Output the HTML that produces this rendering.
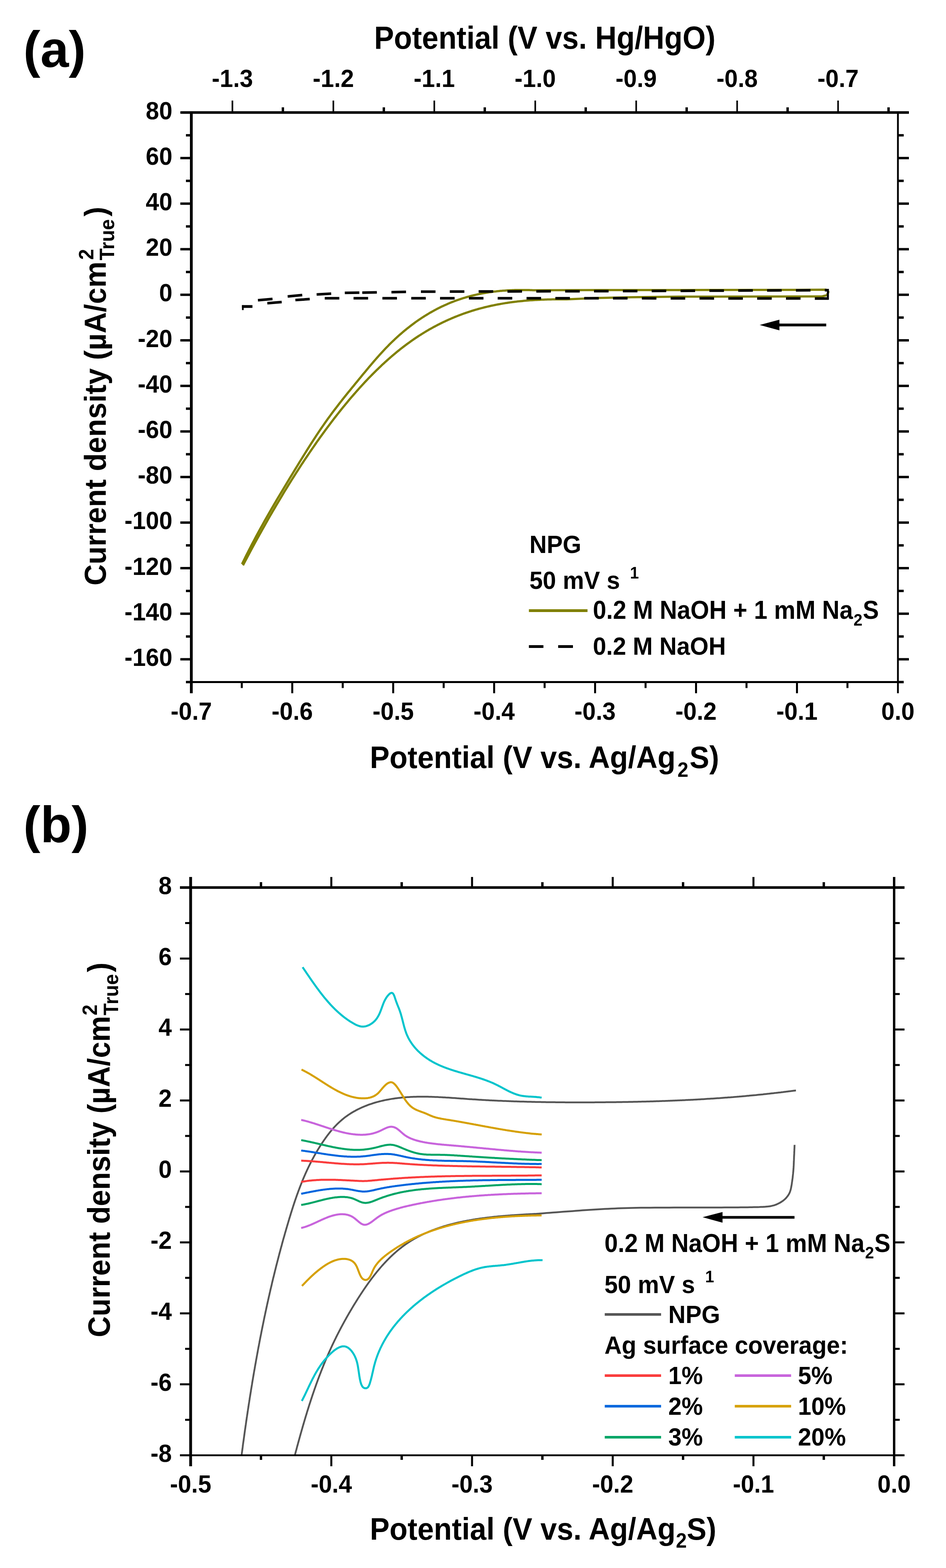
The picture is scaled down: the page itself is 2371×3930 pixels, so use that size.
<!DOCTYPE html>
<html><head><meta charset="utf-8"><title>Figure</title>
<style>html,body{margin:0;padding:0;background:#fff;}svg{display:block;}</style></head>
<body><svg width="2371" height="3930" viewBox="0 0 2371 3930" style="font-family:'Liberation Sans',Arial,sans-serif;font-weight:bold">
<rect width="2371" height="3930" fill="#fff"/>
<text x="58.5" y="168.0" font-size="128" text-anchor="start" >(a)</text>
<text x="58.5" y="2110.5" font-size="128" text-anchor="start" >(b)</text>
<polyline points="606.5,1413.9 609.5,1407.7 612.5,1401.6 615.5,1395.6 618.5,1389.6 621.5,1383.7 624.5,1377.8 627.5,1371.9 630.5,1366.1 633.5,1360.4 636.5,1354.7 639.5,1349.0 642.5,1343.4 645.5,1337.9 648.5,1332.3 651.5,1326.8 654.5,1321.4 657.5,1316.0 660.5,1310.6 663.5,1305.2 666.5,1299.9 669.5,1294.6 672.5,1289.3 675.5,1284.1 678.5,1278.9 681.5,1273.7 684.5,1268.6 687.5,1263.4 690.5,1258.3 693.5,1253.2 696.5,1248.2 699.5,1243.1 702.5,1238.1 705.5,1233.1 708.5,1228.1 711.5,1223.1 714.5,1218.1 717.5,1213.1 720.5,1208.1 723.5,1203.2 726.5,1198.2 729.5,1193.3 732.5,1188.3 735.5,1183.4 738.5,1178.5 741.5,1173.5 744.5,1168.6 747.5,1163.7 750.5,1158.8 753.5,1153.9 756.5,1149.1 759.5,1144.2 762.5,1139.4 765.5,1134.6 768.5,1129.8 771.5,1125.0 774.5,1120.2 777.5,1115.5 780.5,1110.8 783.5,1106.2 786.5,1101.5 789.5,1096.9 792.5,1092.3 795.5,1087.8 798.5,1083.3 801.5,1078.8 804.5,1074.4 807.5,1070.0 810.5,1065.7 813.5,1061.4 816.5,1057.1 819.5,1052.9 822.5,1048.7 825.5,1044.6 828.5,1040.5 831.5,1036.4 834.5,1032.4 837.5,1028.4 840.5,1024.5 843.5,1020.6 846.5,1016.7 849.5,1012.8 852.5,1008.9 855.5,1005.1 858.5,1001.3 861.5,997.6 864.5,993.8 867.5,990.1 870.5,986.3 873.5,982.6 876.5,978.9 879.5,975.2 882.5,971.6 885.5,967.9 888.5,964.2 891.5,960.6 894.5,956.9 897.5,953.2 900.5,949.6 903.5,945.9 906.5,942.3 909.5,938.6 912.5,935.0 915.5,931.4 918.5,927.8 921.5,924.2 924.5,920.6 927.5,917.0 930.5,913.5 933.5,909.9 936.5,906.4 939.5,903.0 942.5,899.5 945.5,896.1 948.5,892.7 951.5,889.4 954.5,886.1 957.5,882.8 960.5,879.6 963.5,876.4 966.5,873.2 969.5,870.1 972.5,867.1 975.4,864.0 978.4,861.1 981.4,858.1 984.4,855.2 987.4,852.4 990.4,849.6 993.4,846.8 996.4,844.0 999.4,841.3 1002.4,838.7 1005.4,836.1 1008.4,833.5 1011.4,830.9 1014.4,828.4 1017.4,826.0 1020.4,823.5 1023.4,821.2 1026.4,818.8 1029.4,816.5 1032.4,814.2 1035.4,812.0 1038.4,809.7 1041.4,807.6 1044.4,805.4 1047.4,803.3 1050.4,801.3 1053.4,799.2 1056.4,797.2 1059.4,795.3 1062.4,793.4 1065.4,791.5 1068.4,789.6 1071.4,787.8 1074.4,786.0 1077.4,784.2 1080.4,782.5 1083.4,780.8 1086.4,779.1 1089.4,777.5 1092.4,775.9 1095.4,774.3 1098.4,772.8 1101.4,771.3 1104.4,769.8 1107.4,768.3 1110.4,766.9 1113.4,765.5 1116.4,764.2 1119.4,762.9 1122.4,761.6 1125.4,760.3 1128.4,759.0 1131.4,757.8 1134.4,756.6 1137.4,755.5 1140.4,754.3 1143.4,753.2 1146.4,752.2 1149.4,751.1 1152.4,750.1 1155.4,749.1 1158.4,748.1 1161.4,747.2 1164.4,746.3 1167.4,745.4 1170.4,744.5 1173.4,743.6 1176.4,742.8 1179.4,742.0 1182.4,741.2 1185.4,740.5 1188.4,739.8 1191.4,739.1 1194.4,738.4 1197.4,737.7 1200.4,737.1 1203.4,736.5 1206.4,735.9 1209.4,735.3 1212.4,734.8 1215.4,734.2 1218.4,733.7 1221.4,733.2 1224.4,732.8 1227.4,732.3 1230.4,731.9 1233.4,731.5 1236.4,731.1 1239.4,730.7 1242.4,730.4 1245.4,730.0 1248.4,729.7 1251.4,729.4 1254.4,729.1 1257.4,728.9 1260.4,728.6 1263.4,728.4 1266.4,728.2 1269.4,728.0 1272.4,727.8 1275.4,727.7 1278.4,727.5 1281.4,727.4 1284.4,727.3 1287.4,727.2 1290.4,727.1 1293.4,727.0 1296.4,727.0 1299.4,726.9 1302.4,726.9 1305.4,726.9 1308.4,726.9 1311.4,726.9 1314.4,726.9 1317.4,726.9 1320.4,727.0 1323.4,727.0 1326.4,727.1 1329.4,727.2 1332.4,727.3 1335.4,727.4 1338.4,727.5 1341.4,727.6 1500.0,727.0 1700.0,727.0 2000.0,726.5 2070.0,726.0 2076.0,729.0" fill="none" stroke="#808000" stroke-width="5.5" stroke-linejoin="round" stroke-linecap="butt" />
<polyline points="609.0,1416.9 612.0,1411.2 615.0,1405.5 618.0,1399.9 621.0,1394.2 624.0,1388.6 627.0,1383.0 629.9,1377.5 632.9,1371.9 635.9,1366.4 638.9,1360.9 641.9,1355.4 644.9,1350.0 647.9,1344.6 650.9,1339.2 653.9,1333.8 656.9,1328.4 659.9,1323.1 662.9,1317.8 665.9,1312.5 668.9,1307.2 671.8,1301.9 674.8,1296.7 677.8,1291.5 680.8,1286.3 683.8,1281.2 686.8,1276.1 689.8,1271.0 692.8,1265.9 695.8,1260.8 698.8,1255.8 701.8,1250.8 704.8,1245.8 707.8,1240.8 710.7,1235.9 713.7,1230.9 716.7,1226.1 719.7,1221.2 722.7,1216.3 725.7,1211.5 728.7,1206.7 731.7,1201.9 734.7,1197.2 737.7,1192.5 740.7,1187.8 743.7,1183.1 746.7,1178.4 749.7,1173.8 752.6,1169.2 755.6,1164.6 758.6,1160.1 761.6,1155.5 764.6,1151.0 767.6,1146.6 770.6,1142.1 773.6,1137.7 776.6,1133.3 779.6,1128.9 782.6,1124.5 785.6,1120.2 788.6,1115.9 791.5,1111.6 794.5,1107.3 797.5,1103.1 800.5,1098.9 803.5,1094.7 806.5,1090.6 809.5,1086.4 812.5,1082.3 815.5,1078.2 818.5,1074.2 821.5,1070.2 824.5,1066.2 827.5,1062.2 830.5,1058.2 833.4,1054.3 836.4,1050.4 839.4,1046.5 842.4,1042.7 845.4,1038.9 848.4,1035.1 851.4,1031.3 854.4,1027.5 857.4,1023.8 860.4,1020.1 863.4,1016.5 866.4,1012.8 869.4,1009.2 872.4,1005.6 875.3,1002.1 878.3,998.5 881.3,995.0 884.3,991.6 887.3,988.1 890.3,984.7 893.3,981.3 896.3,977.9 899.3,974.5 902.3,971.2 905.3,967.9 908.3,964.7 911.3,961.4 914.2,958.2 917.2,955.0 920.2,951.9 923.2,948.7 926.2,945.6 929.2,942.6 932.2,939.5 935.2,936.5 938.2,933.5 941.2,930.5 944.2,927.6 947.2,924.7 950.2,921.8 953.2,919.0 956.1,916.1 959.1,913.3 962.1,910.6 965.1,907.8 968.1,905.1 971.1,902.4 974.1,899.7 977.1,897.1 980.1,894.5 983.1,891.9 986.1,889.4 989.1,886.9 992.1,884.4 995.0,881.9 998.0,879.5 1001.0,877.1 1004.0,874.7 1007.0,872.3 1010.0,870.0 1013.0,867.7 1016.0,865.5 1019.0,863.2 1022.0,861.0 1025.0,858.9 1028.0,856.7 1031.0,854.6 1034.0,852.5 1036.9,850.4 1039.9,848.4 1042.9,846.4 1045.9,844.4 1048.9,842.4 1051.9,840.5 1054.9,838.6 1057.9,836.7 1060.9,834.8 1063.9,833.0 1066.9,831.2 1069.9,829.4 1072.9,827.7 1075.8,825.9 1078.8,824.2 1081.8,822.6 1084.8,820.9 1087.8,819.3 1090.8,817.7 1093.8,816.1 1096.8,814.5 1099.8,813.0 1102.8,811.5 1105.8,810.0 1108.8,808.5 1111.8,807.1 1114.8,805.7 1117.7,804.3 1120.7,802.9 1123.7,801.5 1126.7,800.2 1129.7,798.9 1132.7,797.6 1135.7,796.4 1138.7,795.1 1141.7,793.9 1144.7,792.7 1147.7,791.5 1150.7,790.4 1153.7,789.2 1156.6,788.1 1159.6,787.0 1162.6,785.9 1165.6,784.9 1168.6,783.8 1171.6,782.8 1174.6,781.8 1177.6,780.8 1180.6,779.9 1183.6,778.9 1186.6,778.0 1189.6,777.1 1192.6,776.2 1195.6,775.4 1198.5,774.5 1201.5,773.7 1204.5,772.9 1207.5,772.1 1210.5,771.3 1213.5,770.5 1216.5,769.8 1219.5,769.1 1222.5,768.4 1225.5,767.7 1228.5,767.0 1231.5,766.3 1234.5,765.7 1237.5,765.1 1240.4,764.5 1243.4,763.9 1246.4,763.3 1249.4,762.7 1252.4,762.2 1255.4,761.6 1258.4,761.1 1261.4,760.6 1264.4,760.1 1267.4,759.6 1270.4,759.2 1273.4,758.7 1276.4,758.3 1279.3,757.9 1282.3,757.5 1285.3,757.1 1288.3,756.7 1291.3,756.3 1294.3,756.0 1297.3,755.6 1300.3,755.3 1303.3,755.0 1306.3,754.7 1309.3,754.4 1312.3,754.1 1315.3,753.8 1318.3,753.5 1321.2,753.3 1324.2,753.1 1327.2,752.8 1330.2,752.6 1333.2,752.4 1336.2,752.2 1339.2,752.0 1342.2,751.8 1345.2,751.7 1348.2,751.5 1351.2,751.4 1354.2,751.2 1357.2,751.1 1360.1,751.0 1363.1,750.9 1366.1,750.8 1369.1,750.7 1372.1,750.6 1375.1,750.5 1378.1,750.5 1381.1,750.4 1384.1,750.3 1387.1,750.3 1390.1,750.3 1393.1,750.2 1396.1,750.2 1399.1,750.2 1402.0,750.2 1405.0,750.2 1408.0,750.2 1411.0,750.2 1414.0,750.2 1417.0,750.2 1420.0,750.2 1500.0,746.8 1580.3,745.0 1700.0,743.6 1900.0,743.2 2060.0,743.0 2072.0,740.0 2076.0,733.0 2076.0,729.0" fill="none" stroke="#808000" stroke-width="5.5" stroke-linejoin="round" stroke-linecap="butt" />
<line x1="606.5" y1="768.2" x2="632.7" y2="768.2" stroke="#000" stroke-width="7"/>
<line x1="608.6" y1="764.8" x2="608.6" y2="777.2" stroke="#000" stroke-width="4.2"/>
<line x1="646.5" y1="752.5" x2="683.0" y2="749.3" stroke="#000" stroke-width="6.5"/>
<line x1="721.0" y1="743.0" x2="757.5" y2="739.5" stroke="#000" stroke-width="6.5"/>
<line x1="793.6" y1="738.0" x2="830.1" y2="736.0" stroke="#000" stroke-width="6.5"/>
<line x1="864.2" y1="734.1" x2="900.7" y2="733.5" stroke="#000" stroke-width="6.5"/>
<line x1="908.0" y1="733.4" x2="944.5" y2="732.8" stroke="#000" stroke-width="6.5"/>
<line x1="981.1" y1="732.2" x2="1017.6" y2="731.6" stroke="#000" stroke-width="6.5"/>
<line x1="1055.0" y1="731.0" x2="1091.5" y2="730.9" stroke="#000" stroke-width="6.5"/>
<line x1="1127.3" y1="730.8" x2="1163.8" y2="730.7" stroke="#000" stroke-width="6.5"/>
<line x1="1199.6" y1="730.6" x2="1236.1" y2="730.5" stroke="#000" stroke-width="6.5"/>
<line x1="1271.9" y1="730.4" x2="1308.4" y2="730.3" stroke="#000" stroke-width="6.5"/>
<line x1="1344.2" y1="730.2" x2="1380.7" y2="730.1" stroke="#000" stroke-width="6.5"/>
<line x1="1416.5" y1="730.0" x2="1453.0" y2="729.9" stroke="#000" stroke-width="6.5"/>
<line x1="1488.8" y1="729.8" x2="1525.3" y2="729.7" stroke="#000" stroke-width="6.5"/>
<line x1="1561.1" y1="729.5" x2="1597.6" y2="729.4" stroke="#000" stroke-width="6.5"/>
<line x1="1633.4" y1="729.2" x2="1669.9" y2="729.1" stroke="#000" stroke-width="6.5"/>
<line x1="1705.7" y1="728.9" x2="1742.2" y2="728.8" stroke="#000" stroke-width="6.5"/>
<line x1="1778.0" y1="728.6" x2="1814.5" y2="728.4" stroke="#000" stroke-width="6.5"/>
<line x1="1850.3" y1="728.3" x2="1886.8" y2="728.1" stroke="#000" stroke-width="6.5"/>
<line x1="1922.6" y1="728.0" x2="1959.1" y2="727.8" stroke="#000" stroke-width="6.5"/>
<line x1="1994.9" y1="727.7" x2="2031.4" y2="727.5" stroke="#000" stroke-width="6.5"/>
<line x1="2067.2" y1="727.3" x2="2077.0" y2="727.3" stroke="#000" stroke-width="6.5"/>
<line x1="670.0" y1="760.0" x2="706.0" y2="757.0" stroke="#000" stroke-width="6.5"/>
<line x1="740.3" y1="752.0" x2="776.3" y2="749.6" stroke="#000" stroke-width="6.5"/>
<line x1="813.9" y1="747.5" x2="850.4" y2="747.5" stroke="#000" stroke-width="6.5"/>
<line x1="886.1" y1="747.5" x2="922.6" y2="747.5" stroke="#000" stroke-width="6.5"/>
<line x1="958.4" y1="747.5" x2="994.9" y2="747.5" stroke="#000" stroke-width="6.5"/>
<line x1="1030.7" y1="747.5" x2="1067.2" y2="747.5" stroke="#000" stroke-width="6.5"/>
<line x1="1102.9" y1="747.5" x2="1139.4" y2="747.5" stroke="#000" stroke-width="6.5"/>
<line x1="1175.2" y1="747.5" x2="1211.7" y2="747.5" stroke="#000" stroke-width="6.5"/>
<line x1="1247.4" y1="747.5" x2="1283.9" y2="747.5" stroke="#000" stroke-width="6.5"/>
<line x1="1319.7" y1="747.5" x2="1356.2" y2="747.5" stroke="#000" stroke-width="6.5"/>
<line x1="1391.9" y1="747.5" x2="1428.4" y2="747.5" stroke="#000" stroke-width="6.5"/>
<line x1="1464.2" y1="747.5" x2="1500.7" y2="747.5" stroke="#000" stroke-width="6.5"/>
<line x1="1536.4" y1="747.5" x2="1572.9" y2="747.6" stroke="#000" stroke-width="6.5"/>
<line x1="1608.7" y1="747.6" x2="1645.2" y2="747.7" stroke="#000" stroke-width="6.5"/>
<line x1="1680.9" y1="747.7" x2="1717.4" y2="747.8" stroke="#000" stroke-width="6.5"/>
<line x1="1753.2" y1="747.8" x2="1789.7" y2="747.9" stroke="#000" stroke-width="6.5"/>
<line x1="1825.4" y1="747.9" x2="1861.9" y2="747.9" stroke="#000" stroke-width="6.5"/>
<line x1="1897.7" y1="748.0" x2="1934.2" y2="748.0" stroke="#000" stroke-width="6.5"/>
<line x1="1969.9" y1="748.1" x2="2006.4" y2="748.1" stroke="#000" stroke-width="6.5"/>
<line x1="2042.2" y1="748.2" x2="2077.0" y2="748.2" stroke="#000" stroke-width="6.5"/>
<line x1="2075" y1="724" x2="2075" y2="751" stroke="#000" stroke-width="5"/>
<line x1="1950.0" y1="814.5" x2="2070.8" y2="814.5" stroke="#000" stroke-width="6.8"/>
<polygon points="1904,814.5 1953.5,801.2 1953.5,828" fill="#000"/>
<line x1="479.5" y1="279.5" x2="2252.0" y2="279.5" stroke="#000" stroke-width="0"/>
<line x1="453.0" y1="282.0" x2="2278.0" y2="282.0" stroke="#000" stroke-width="6.5"/>
<line x1="479.5" y1="282.0" x2="479.5" y2="1737.5" stroke="#000" stroke-width="7"/>
<line x1="2250.5" y1="282.0" x2="2250.5" y2="1737.5" stroke="#000" stroke-width="4.5"/>
<line x1="466.0" y1="1709.5" x2="2250.5" y2="1709.5" stroke="#000" stroke-width="5"/>
<line x1="479.5" y1="1709.5" x2="479.5" y2="1737.5" stroke="#000" stroke-width="0.01"/>
<text transform="translate(479.5,1803.5) scale(1,1.06)" font-size="60" text-anchor="middle" >-0.7</text>
<line x1="732.5" y1="1709.5" x2="732.5" y2="1737.5" stroke="#000" stroke-width="5"/>
<text transform="translate(732.5,1803.5) scale(1,1.06)" font-size="60" text-anchor="middle" >-0.6</text>
<line x1="985.5" y1="1709.5" x2="985.5" y2="1737.5" stroke="#000" stroke-width="5"/>
<text transform="translate(985.5,1803.5) scale(1,1.06)" font-size="60" text-anchor="middle" >-0.5</text>
<line x1="1238.5" y1="1709.5" x2="1238.5" y2="1737.5" stroke="#000" stroke-width="5"/>
<text transform="translate(1238.5,1803.5) scale(1,1.06)" font-size="60" text-anchor="middle" >-0.4</text>
<line x1="1491.5" y1="1709.5" x2="1491.5" y2="1737.5" stroke="#000" stroke-width="5"/>
<text transform="translate(1491.5,1803.5) scale(1,1.06)" font-size="60" text-anchor="middle" >-0.3</text>
<line x1="1744.5" y1="1709.5" x2="1744.5" y2="1737.5" stroke="#000" stroke-width="5"/>
<text transform="translate(1744.5,1803.5) scale(1,1.06)" font-size="60" text-anchor="middle" >-0.2</text>
<line x1="1997.5" y1="1709.5" x2="1997.5" y2="1737.5" stroke="#000" stroke-width="5"/>
<text transform="translate(1997.5,1803.5) scale(1,1.06)" font-size="60" text-anchor="middle" >-0.1</text>
<line x1="2250.5" y1="1709.5" x2="2250.5" y2="1737.5" stroke="#000" stroke-width="0.01"/>
<text transform="translate(2250.5,1803.5) scale(1,1.06)" font-size="60" text-anchor="middle" >0.0</text>
<line x1="606.0" y1="1709.5" x2="606.0" y2="1724.5" stroke="#000" stroke-width="5"/>
<line x1="859.0" y1="1709.5" x2="859.0" y2="1724.5" stroke="#000" stroke-width="5"/>
<line x1="1112.0" y1="1709.5" x2="1112.0" y2="1724.5" stroke="#000" stroke-width="5"/>
<line x1="1365.0" y1="1709.5" x2="1365.0" y2="1724.5" stroke="#000" stroke-width="5"/>
<line x1="1618.0" y1="1709.5" x2="1618.0" y2="1724.5" stroke="#000" stroke-width="5"/>
<line x1="1871.0" y1="1709.5" x2="1871.0" y2="1724.5" stroke="#000" stroke-width="5"/>
<line x1="2124.0" y1="1709.5" x2="2124.0" y2="1724.5" stroke="#000" stroke-width="5"/>
<line x1="582.5" y1="282.0" x2="582.5" y2="252.0" stroke="#000" stroke-width="4"/>
<text transform="translate(582.5,218.0) scale(1,1.06)" font-size="60" text-anchor="middle" >-1.3</text>
<line x1="835.5" y1="282.0" x2="835.5" y2="252.0" stroke="#000" stroke-width="4"/>
<text transform="translate(835.5,218.0) scale(1,1.06)" font-size="60" text-anchor="middle" >-1.2</text>
<line x1="1088.5" y1="282.0" x2="1088.5" y2="252.0" stroke="#000" stroke-width="4"/>
<text transform="translate(1088.5,218.0) scale(1,1.06)" font-size="60" text-anchor="middle" >-1.1</text>
<line x1="1341.5" y1="282.0" x2="1341.5" y2="252.0" stroke="#000" stroke-width="4"/>
<text transform="translate(1341.5,218.0) scale(1,1.06)" font-size="60" text-anchor="middle" >-1.0</text>
<line x1="1594.5" y1="282.0" x2="1594.5" y2="252.0" stroke="#000" stroke-width="4"/>
<text transform="translate(1594.5,218.0) scale(1,1.06)" font-size="60" text-anchor="middle" >-0.9</text>
<line x1="1847.5" y1="282.0" x2="1847.5" y2="252.0" stroke="#000" stroke-width="4"/>
<text transform="translate(1847.5,218.0) scale(1,1.06)" font-size="60" text-anchor="middle" >-0.8</text>
<line x1="2100.5" y1="282.0" x2="2100.5" y2="252.0" stroke="#000" stroke-width="4"/>
<text transform="translate(2100.5,218.0) scale(1,1.06)" font-size="60" text-anchor="middle" >-0.7</text>
<line x1="709.0" y1="282.0" x2="709.0" y2="269.0" stroke="#000" stroke-width="6"/>
<line x1="962.0" y1="282.0" x2="962.0" y2="269.0" stroke="#000" stroke-width="6"/>
<line x1="1215.0" y1="282.0" x2="1215.0" y2="269.0" stroke="#000" stroke-width="6"/>
<line x1="1468.0" y1="282.0" x2="1468.0" y2="269.0" stroke="#000" stroke-width="6"/>
<line x1="1721.0" y1="282.0" x2="1721.0" y2="269.0" stroke="#000" stroke-width="6"/>
<line x1="1974.0" y1="282.0" x2="1974.0" y2="269.0" stroke="#000" stroke-width="6"/>
<line x1="2227.0" y1="282.0" x2="2227.0" y2="269.0" stroke="#000" stroke-width="6"/>
<line x1="452.0" y1="1652.4" x2="479.5" y2="1652.4" stroke="#000" stroke-width="6"/>
<line x1="2250.5" y1="1652.4" x2="2278.0" y2="1652.4" stroke="#000" stroke-width="6"/>
<text transform="translate(432.0,1668.9) scale(1,1.06)" font-size="60" text-anchor="end" >-160</text>
<line x1="452.0" y1="1538.2" x2="479.5" y2="1538.2" stroke="#000" stroke-width="6"/>
<line x1="2250.5" y1="1538.2" x2="2278.0" y2="1538.2" stroke="#000" stroke-width="6"/>
<text transform="translate(432.0,1554.7) scale(1,1.06)" font-size="60" text-anchor="end" >-140</text>
<line x1="452.0" y1="1424.0" x2="479.5" y2="1424.0" stroke="#000" stroke-width="6"/>
<line x1="2250.5" y1="1424.0" x2="2278.0" y2="1424.0" stroke="#000" stroke-width="6"/>
<text transform="translate(432.0,1440.5) scale(1,1.06)" font-size="60" text-anchor="end" >-120</text>
<line x1="452.0" y1="1309.8" x2="479.5" y2="1309.8" stroke="#000" stroke-width="6"/>
<line x1="2250.5" y1="1309.8" x2="2278.0" y2="1309.8" stroke="#000" stroke-width="6"/>
<text transform="translate(432.0,1326.3) scale(1,1.06)" font-size="60" text-anchor="end" >-100</text>
<line x1="452.0" y1="1195.6" x2="479.5" y2="1195.6" stroke="#000" stroke-width="6"/>
<line x1="2250.5" y1="1195.6" x2="2278.0" y2="1195.6" stroke="#000" stroke-width="6"/>
<text transform="translate(432.0,1212.1) scale(1,1.06)" font-size="60" text-anchor="end" >-80</text>
<line x1="452.0" y1="1081.4" x2="479.5" y2="1081.4" stroke="#000" stroke-width="6"/>
<line x1="2250.5" y1="1081.4" x2="2278.0" y2="1081.4" stroke="#000" stroke-width="6"/>
<text transform="translate(432.0,1097.9) scale(1,1.06)" font-size="60" text-anchor="end" >-60</text>
<line x1="452.0" y1="967.2" x2="479.5" y2="967.2" stroke="#000" stroke-width="6"/>
<line x1="2250.5" y1="967.2" x2="2278.0" y2="967.2" stroke="#000" stroke-width="6"/>
<text transform="translate(432.0,983.7) scale(1,1.06)" font-size="60" text-anchor="end" >-40</text>
<line x1="452.0" y1="853.0" x2="479.5" y2="853.0" stroke="#000" stroke-width="6"/>
<line x1="2250.5" y1="853.0" x2="2278.0" y2="853.0" stroke="#000" stroke-width="6"/>
<text transform="translate(432.0,869.5) scale(1,1.06)" font-size="60" text-anchor="end" >-20</text>
<line x1="452.0" y1="738.8" x2="479.5" y2="738.8" stroke="#000" stroke-width="6"/>
<line x1="2250.5" y1="738.8" x2="2278.0" y2="738.8" stroke="#000" stroke-width="6"/>
<text transform="translate(432.0,755.3) scale(1,1.06)" font-size="60" text-anchor="end" >0</text>
<line x1="452.0" y1="624.6" x2="479.5" y2="624.6" stroke="#000" stroke-width="6"/>
<line x1="2250.5" y1="624.6" x2="2278.0" y2="624.6" stroke="#000" stroke-width="6"/>
<text transform="translate(432.0,641.1) scale(1,1.06)" font-size="60" text-anchor="end" >20</text>
<line x1="452.0" y1="510.4" x2="479.5" y2="510.4" stroke="#000" stroke-width="6"/>
<line x1="2250.5" y1="510.4" x2="2278.0" y2="510.4" stroke="#000" stroke-width="6"/>
<text transform="translate(432.0,526.9) scale(1,1.06)" font-size="60" text-anchor="end" >40</text>
<line x1="452.0" y1="396.2" x2="479.5" y2="396.2" stroke="#000" stroke-width="6"/>
<line x1="2250.5" y1="396.2" x2="2278.0" y2="396.2" stroke="#000" stroke-width="6"/>
<text transform="translate(432.0,412.7) scale(1,1.06)" font-size="60" text-anchor="end" >60</text>
<line x1="452.0" y1="282.0" x2="479.5" y2="282.0" stroke="#000" stroke-width="6"/>
<line x1="2250.5" y1="282.0" x2="2278.0" y2="282.0" stroke="#000" stroke-width="6"/>
<text transform="translate(432.0,298.5) scale(1,1.06)" font-size="60" text-anchor="end" >80</text>
<line x1="466.0" y1="1709.5" x2="479.5" y2="1709.5" stroke="#000" stroke-width="6"/>
<line x1="2250.5" y1="1709.5" x2="2265.0" y2="1709.5" stroke="#000" stroke-width="6"/>
<line x1="466.0" y1="1595.3" x2="479.5" y2="1595.3" stroke="#000" stroke-width="6"/>
<line x1="2250.5" y1="1595.3" x2="2265.0" y2="1595.3" stroke="#000" stroke-width="6"/>
<line x1="466.0" y1="1481.1" x2="479.5" y2="1481.1" stroke="#000" stroke-width="6"/>
<line x1="2250.5" y1="1481.1" x2="2265.0" y2="1481.1" stroke="#000" stroke-width="6"/>
<line x1="466.0" y1="1366.9" x2="479.5" y2="1366.9" stroke="#000" stroke-width="6"/>
<line x1="2250.5" y1="1366.9" x2="2265.0" y2="1366.9" stroke="#000" stroke-width="6"/>
<line x1="466.0" y1="1252.7" x2="479.5" y2="1252.7" stroke="#000" stroke-width="6"/>
<line x1="2250.5" y1="1252.7" x2="2265.0" y2="1252.7" stroke="#000" stroke-width="6"/>
<line x1="466.0" y1="1138.5" x2="479.5" y2="1138.5" stroke="#000" stroke-width="6"/>
<line x1="2250.5" y1="1138.5" x2="2265.0" y2="1138.5" stroke="#000" stroke-width="6"/>
<line x1="466.0" y1="1024.3" x2="479.5" y2="1024.3" stroke="#000" stroke-width="6"/>
<line x1="2250.5" y1="1024.3" x2="2265.0" y2="1024.3" stroke="#000" stroke-width="6"/>
<line x1="466.0" y1="910.1" x2="479.5" y2="910.1" stroke="#000" stroke-width="6"/>
<line x1="2250.5" y1="910.1" x2="2265.0" y2="910.1" stroke="#000" stroke-width="6"/>
<line x1="466.0" y1="795.9" x2="479.5" y2="795.9" stroke="#000" stroke-width="6"/>
<line x1="2250.5" y1="795.9" x2="2265.0" y2="795.9" stroke="#000" stroke-width="6"/>
<line x1="466.0" y1="681.7" x2="479.5" y2="681.7" stroke="#000" stroke-width="6"/>
<line x1="2250.5" y1="681.7" x2="2265.0" y2="681.7" stroke="#000" stroke-width="6"/>
<line x1="466.0" y1="567.5" x2="479.5" y2="567.5" stroke="#000" stroke-width="6"/>
<line x1="2250.5" y1="567.5" x2="2265.0" y2="567.5" stroke="#000" stroke-width="6"/>
<line x1="466.0" y1="453.3" x2="479.5" y2="453.3" stroke="#000" stroke-width="6"/>
<line x1="2250.5" y1="453.3" x2="2265.0" y2="453.3" stroke="#000" stroke-width="6"/>
<line x1="466.0" y1="339.1" x2="479.5" y2="339.1" stroke="#000" stroke-width="6"/>
<line x1="2250.5" y1="339.1" x2="2265.0" y2="339.1" stroke="#000" stroke-width="6"/>
<text transform="translate(1365.5,121.6) scale(1,1.06)" font-size="74.4" text-anchor="middle" >Potential (V vs. Hg/HgO)</text>
<text transform="translate(927.0,1925.3) scale(1,1.06)" font-size="74" text-anchor="start">Potential (V vs. Ag/Ag<tspan font-size="49" dx="5" dy="20">2</tspan><tspan dx="3" dy="-20">S)</tspan></text>
<text transform="translate(265,1467.6) rotate(-90) scale(1,1.04)" font-size="73.7">Current density (µA/cm<tspan font-size="49" x="816.4" y="-30">2</tspan><tspan font-size="49" x="815" y="20">True</tspan><tspan x="925" y="0">)</tspan></text>
<text transform="translate(1327.0,1386.0) scale(1,1.06)" font-size="60" text-anchor="start" >NPG</text>
<text transform="translate(1327.0,1475.7) scale(1,1.06)" font-size="60" text-anchor="start" >50 mV s</text>
<text transform="translate(1579.0,1450.0) scale(1,1.06)" font-size="40" text-anchor="start" >1</text>
<line x1="1325.6" y1="1530.6" x2="1472.5" y2="1530.6" stroke="#808000" stroke-width="7"/>
<text transform="translate(1486.0,1551.0) scale(1,1.06)" font-size="60.3" text-anchor="start">0.2 M NaOH + 1 mM Na<tspan font-size="40" dx="1.5" dy="16">2</tspan><tspan dx="1" dy="-16">S</tspan></text>
<line x1="1325.6" y1="1620.6" x2="1362.0" y2="1620.6" stroke="#000" stroke-width="7"/>
<line x1="1399.0" y1="1620.6" x2="1436.0" y2="1620.6" stroke="#000" stroke-width="7"/>
<text transform="translate(1486.0,1641.0) scale(1,1.06)" font-size="60" text-anchor="start" >0.2 M NaOH</text>
<polyline points="605.5,3647.2 605.9,3644.3 606.3,3641.3 606.7,3638.3 607.1,3635.4 607.5,3632.4 607.9,3629.5 608.3,3626.5 608.6,3623.6 609.0,3620.6 609.4,3617.7 609.8,3614.7 610.3,3611.7 610.7,3608.8 611.1,3605.8 611.5,3602.9 611.9,3599.9 612.3,3596.9 612.7,3594.0 613.1,3591.0 613.5,3588.1 613.9,3585.1 614.4,3582.2 614.8,3579.2 615.2,3576.2 615.6,3573.3 616.1,3570.3 616.5,3567.4 616.9,3564.4 617.3,3561.4 617.8,3558.5 618.2,3555.5 618.6,3552.5 619.1,3549.6 619.5,3546.6 620.0,3543.7 620.4,3540.7 620.8,3537.7 621.3,3534.8 621.7,3531.8 622.2,3528.9 622.6,3525.9 623.1,3522.9 623.5,3520.0 624.0,3517.0 624.5,3514.0 624.9,3511.1 625.4,3508.1 625.8,3505.2 626.3,3502.2 626.8,3499.2 627.2,3496.3 627.7,3493.3 628.2,3490.4 628.7,3487.4 629.1,3484.4 629.6,3481.5 630.1,3478.5 630.6,3475.5 631.1,3472.6 631.6,3469.6 632.0,3466.7 632.5,3463.7 633.0,3460.7 633.5,3457.8 634.0,3454.8 634.5,3451.9 635.0,3448.9 635.5,3445.9 636.0,3443.0 636.5,3440.0 637.0,3437.1 637.5,3434.1 638.1,3431.1 638.6,3428.2 639.1,3425.2 639.6,3422.3 640.1,3419.3 640.7,3416.4 641.2,3413.4 641.7,3410.4 642.2,3407.5 642.8,3404.5 643.3,3401.6 643.8,3398.6 644.4,3395.7 644.9,3392.7 645.5,3389.8 646.0,3386.8 646.5,3383.8 647.1,3380.9 647.6,3377.9 648.2,3375.0 648.8,3372.0 649.3,3369.1 649.9,3366.1 650.4,3363.2 651.0,3360.2 651.6,3357.3 652.1,3354.3 652.7,3351.4 653.3,3348.4 653.9,3345.5 654.5,3342.5 655.0,3339.6 655.6,3336.6 656.2,3333.7 656.8,3330.7 657.4,3327.8 658.0,3324.8 658.6,3321.9 659.2,3319.0 659.8,3316.0 660.4,3313.1 661.0,3310.1 661.6,3307.2 662.2,3304.2 662.8,3301.3 663.4,3298.4 664.1,3295.4 664.7,3292.5 665.3,3289.5 665.9,3286.6 666.6,3283.7 667.2,3280.7 667.8,3277.8 668.5,3274.9 669.1,3271.9 669.7,3269.0 670.4,3266.1 671.0,3263.1 671.7,3260.2 672.3,3257.3 673.0,3254.3 673.6,3251.4 674.3,3248.5 675.0,3245.5 675.6,3242.6 676.3,3239.7 677.0,3236.8 677.6,3233.8 678.3,3230.9 679.0,3228.0 679.7,3225.1 680.4,3222.2 681.1,3219.2 681.7,3216.3 682.4,3213.4 683.1,3210.5 683.8,3207.6 684.5,3204.6 685.2,3201.7 686.0,3198.8 686.7,3195.9 687.4,3193.0 688.1,3190.1 688.8,3187.2 689.5,3184.2 690.3,3181.3 691.0,3178.4 691.7,3175.5 692.4,3172.6 693.2,3169.7 693.9,3166.8 694.7,3163.9 695.4,3161.0 696.2,3158.1 696.9,3155.2 697.7,3152.3 698.4,3149.4 699.2,3146.5 699.9,3143.6 700.7,3140.7 701.5,3137.8 702.3,3134.9 703.0,3132.0 703.8,3129.1 704.6,3126.2 705.4,3123.3 706.2,3120.5 706.9,3117.6 707.7,3114.7 708.5,3111.8 709.3,3108.9 710.1,3106.0 710.9,3103.1 711.8,3100.3 712.6,3097.4 713.4,3094.5 714.2,3091.6 715.0,3088.7 715.9,3085.9 716.7,3083.0 717.5,3080.1 718.3,3077.3 719.2,3074.4 720.0,3071.5 720.9,3068.7 721.7,3065.8 722.6,3062.9 723.4,3060.1 724.3,3057.2 725.1,3054.3 726.0,3051.5 726.9,3048.6 727.8,3045.8 728.6,3042.9 729.5,3040.0 730.4,3037.2 731.3,3034.3 732.2,3031.5 733.1,3028.7 734.0,3025.8 734.9,3023.0 735.9,3020.1 736.8,3017.3 737.7,3014.5 738.7,3011.6 739.6,3008.8 740.6,3006.0 741.6,3003.1 742.6,3000.3 743.5,2997.5 744.5,2994.7 745.6,2991.9 746.6,2989.1 747.6,2986.3 748.6,2983.5 749.7,2980.7 750.7,2977.9 751.8,2975.1 752.9,2972.3 754.0,2969.5 755.1,2966.7 756.2,2963.9 757.3,2961.2 758.4,2958.4 759.6,2955.6 760.7,2952.9 761.9,2950.1 763.1,2947.3 764.3,2944.6 765.5,2941.8 766.7,2939.1 768.0,2936.4 769.2,2933.6 770.5,2930.9 771.8,2928.2 773.1,2925.4 774.4,2922.7 775.8,2920.0 777.1,2917.3 778.5,2914.6 779.8,2911.9 781.2,2909.2 782.6,2906.5 784.1,2903.9 785.5,2901.2 787.0,2898.5 788.4,2895.9 789.9,2893.2 791.4,2890.6 793.0,2888.0 794.5,2885.4 796.1,2882.7 797.6,2880.1 799.2,2877.6 800.8,2875.0 802.4,2872.4 804.1,2869.8 805.7,2867.3 807.4,2864.7 809.1,2862.2 810.8,2859.7 812.5,2857.2 814.3,2854.7 816.0,2852.2 817.8,2849.8 819.6,2847.3 821.4,2844.9 823.3,2842.5 825.1,2840.1 827.0,2837.8 828.9,2835.4 830.8,2833.1 832.8,2830.8 834.7,2828.6 836.7,2826.4 838.7,2824.1 840.8,2822.0 842.9,2819.8 844.9,2817.7 847.1,2815.6 849.2,2813.6 851.4,2811.6 853.6,2809.6 855.8,2807.7 858.0,2805.8 860.3,2803.9 862.6,2802.1 864.9,2800.3 867.3,2798.5 869.7,2796.8 872.1,2795.1 874.5,2793.5 877.0,2791.9 879.4,2790.3 881.9,2788.8 884.5,2787.3 887.0,2785.8 889.6,2784.4 892.1,2783.0 894.7,2781.6 897.4,2780.3 900.0,2779.0 902.7,2777.7 905.3,2776.5 908.0,2775.3 910.8,2774.1 913.5,2773.0 916.2,2771.9 919.0,2770.8 921.8,2769.7 924.5,2768.7 927.4,2767.7 930.2,2766.8 933.0,2765.8 935.8,2764.9 938.7,2764.0 941.6,2763.2 944.4,2762.4 947.3,2761.6 950.2,2760.8 953.1,2760.1 956.0,2759.4 959.0,2758.7 961.9,2758.0 964.8,2757.4 967.8,2756.8 970.7,2756.2 973.7,2755.7 976.7,2755.1 979.6,2754.6 982.6,2754.1 985.6,2753.7 988.5,2753.2 991.5,2752.8 994.5,2752.4 997.5,2752.1 1000.5,2751.7 1003.5,2751.4 1006.5,2751.1 1009.5,2750.8 1012.4,2750.5 1015.4,2750.3 1018.4,2750.1 1021.4,2749.8 1024.4,2749.7 1027.4,2749.5 1030.4,2749.3 1033.4,2749.2 1036.4,2749.1 1039.4,2749.0 1042.4,2748.9 1045.4,2748.8 1048.4,2748.8 1051.4,2748.7 1054.4,2748.7 1057.4,2748.7 1060.4,2748.7 1063.4,2748.7 1066.4,2748.7 1069.4,2748.8 1072.4,2748.8 1075.5,2748.9 1078.5,2749.0 1081.5,2749.1 1084.5,2749.2 1087.5,2749.3 1090.5,2749.4 1093.5,2749.5 1096.5,2749.6 1099.5,2749.8 1102.5,2749.9 1105.5,2750.1 1108.5,2750.2 1111.6,2750.4 1114.6,2750.6 1117.6,2750.8 1120.6,2750.9 1123.6,2751.1 1126.6,2751.3 1129.6,2751.5 1132.6,2751.7 1135.6,2751.9 1138.6,2752.1 1141.6,2752.3 1144.7,2752.6 1147.7,2752.8 1150.7,2753.0 1153.7,2753.2 1156.7,2753.4 1159.7,2753.6 1162.7,2753.8 1165.7,2754.0 1168.7,2754.2 1171.7,2754.5 1174.7,2754.7 1177.7,2754.9 1180.7,2755.1 1183.8,2755.3 1186.8,2755.4 1189.8,2755.6 1192.8,2755.8 1195.8,2756.0 1198.8,2756.2 1201.8,2756.4 1204.8,2756.5 1207.8,2756.7 1210.8,2756.9 1213.8,2757.1 1216.8,2757.2 1219.8,2757.4 1222.8,2757.5 1225.8,2757.7 1228.8,2757.9 1231.8,2758.0 1234.8,2758.2 1237.8,2758.3 1240.8,2758.4 1243.8,2758.6 1246.8,2758.7 1249.8,2758.9 1252.8,2759.0 1255.8,2759.1 1258.8,2759.2 1261.8,2759.4 1264.8,2759.5 1267.8,2759.6 1270.8,2759.7 1273.7,2759.8 1276.7,2760.0 1279.7,2760.1 1282.7,2760.2 1285.7,2760.3 1288.7,2760.4 1291.7,2760.5 1294.7,2760.6 1297.7,2760.7 1300.7,2760.8 1303.7,2760.9 1306.7,2761.0 1309.7,2761.1 1312.7,2761.1 1315.7,2761.2 1318.7,2761.3 1321.7,2761.4 1324.6,2761.5 1327.6,2761.5 1330.6,2761.6 1333.6,2761.7 1336.6,2761.7 1339.6,2761.8 1342.6,2761.9 1345.6,2761.9 1348.6,2762.0 1351.6,2762.1 1354.6,2762.1 1357.6,2762.2 1360.6,2762.2 1363.5,2762.3 1366.5,2762.3 1369.5,2762.4 1372.5,2762.4 1375.5,2762.5 1378.5,2762.5 1381.5,2762.5 1384.5,2762.6 1387.5,2762.6 1390.5,2762.6 1393.5,2762.7 1396.4,2762.7 1399.4,2762.7 1402.4,2762.8 1405.4,2762.8 1408.4,2762.8 1411.4,2762.8 1414.4,2762.8 1417.4,2762.9 1420.4,2762.9 1423.4,2762.9 1426.4,2762.9 1429.4,2762.9 1432.4,2762.9 1435.3,2762.9 1438.3,2763.0 1441.3,2763.0 1444.3,2763.0 1447.3,2763.0 1450.3,2763.0 1453.3,2763.0 1456.3,2763.0 1459.3,2763.0 1462.3,2763.0 1465.3,2763.0 1468.3,2762.9 1471.3,2762.9 1474.3,2762.9 1477.3,2762.9 1480.2,2762.9 1483.2,2762.9 1486.2,2762.9 1489.2,2762.9 1492.2,2762.8 1495.2,2762.8 1498.2,2762.8 1501.2,2762.8 1504.2,2762.8 1507.2,2762.7 1510.2,2762.7 1513.2,2762.7 1516.2,2762.7 1519.2,2762.6 1522.2,2762.6 1525.2,2762.6 1528.2,2762.5 1531.2,2762.5 1534.2,2762.5 1537.2,2762.4 1540.2,2762.4 1543.2,2762.4 1546.2,2762.3 1549.2,2762.3 1552.2,2762.2 1555.2,2762.2 1558.2,2762.2 1561.2,2762.1 1564.2,2762.1 1567.2,2762.0 1570.2,2762.0 1573.2,2761.9 1576.2,2761.8 1579.2,2761.8 1582.2,2761.7 1585.2,2761.7 1588.2,2761.6 1591.2,2761.5 1594.2,2761.5 1597.2,2761.4 1600.2,2761.3 1603.2,2761.3 1606.2,2761.2 1609.2,2761.1 1612.2,2761.1 1615.2,2761.0 1618.2,2760.9 1621.2,2760.8 1624.2,2760.7 1627.2,2760.7 1630.2,2760.6 1633.2,2760.5 1636.2,2760.4 1639.2,2760.3 1642.2,2760.2 1645.2,2760.1 1648.2,2760.0 1651.2,2759.9 1654.2,2759.8 1657.2,2759.7 1660.2,2759.6 1663.2,2759.5 1666.2,2759.4 1669.2,2759.3 1672.2,2759.2 1675.2,2759.1 1678.2,2759.0 1681.2,2758.8 1684.2,2758.7 1687.2,2758.6 1690.2,2758.5 1693.2,2758.3 1696.2,2758.2 1699.2,2758.1 1702.2,2758.0 1705.2,2757.8 1708.2,2757.7 1711.2,2757.5 1714.2,2757.4 1717.2,2757.3 1720.2,2757.1 1723.2,2757.0 1726.2,2756.8 1729.2,2756.7 1732.2,2756.5 1735.2,2756.4 1738.2,2756.2 1741.2,2756.1 1744.2,2755.9 1747.2,2755.7 1750.2,2755.6 1753.2,2755.4 1756.2,2755.2 1759.2,2755.0 1762.2,2754.9 1765.2,2754.7 1768.2,2754.5 1771.2,2754.3 1774.1,2754.1 1777.1,2754.0 1780.1,2753.8 1783.1,2753.6 1786.1,2753.4 1789.1,2753.2 1792.1,2753.0 1795.1,2752.8 1798.1,2752.6 1801.1,2752.4 1804.1,2752.2 1807.1,2751.9 1810.1,2751.7 1813.1,2751.5 1816.1,2751.3 1819.1,2751.1 1822.1,2750.9 1825.0,2750.6 1828.0,2750.4 1831.0,2750.2 1834.0,2749.9 1837.0,2749.7 1840.0,2749.4 1843.0,2749.2 1846.0,2749.0 1849.0,2748.7 1852.0,2748.5 1854.9,2748.2 1857.9,2748.0 1860.9,2747.7 1863.9,2747.4 1866.9,2747.2 1869.9,2746.9 1872.9,2746.6 1875.9,2746.4 1878.8,2746.1 1881.8,2745.8 1884.8,2745.5 1887.8,2745.2 1890.8,2744.9 1893.8,2744.7 1896.7,2744.4 1899.7,2744.1 1902.7,2743.8 1905.7,2743.5 1908.7,2743.2 1911.7,2742.9 1914.6,2742.5 1917.6,2742.2 1920.6,2741.9 1923.6,2741.6 1926.6,2741.3 1929.5,2740.9 1932.5,2740.6 1935.5,2740.3 1938.5,2740.0 1941.4,2739.6 1944.4,2739.3 1947.4,2738.9 1950.4,2738.6 1953.4,2738.2 1956.3,2737.9 1959.3,2737.5 1962.3,2737.2 1965.2,2736.8 1968.2,2736.4 1971.2,2736.1 1974.2,2735.7 1977.1,2735.3 1980.1,2734.9 1983.1,2734.6 1986.0,2734.2 1989.0,2733.8 1992.0,2733.4 1994.9,2733.0" fill="none" stroke="#555555" stroke-width="4.5" stroke-linejoin="round" stroke-linecap="butt" />
<polyline points="739.0,3647.6 739.5,3645.6 740.0,3643.7 740.5,3641.8 741.0,3639.9 741.5,3637.9 742.0,3636.0 742.6,3634.1 743.1,3632.2 743.6,3630.2 744.1,3628.3 744.6,3626.4 745.1,3624.4 745.7,3622.5 746.2,3620.6 746.7,3618.7 747.2,3616.7 747.8,3614.8 748.3,3612.9 748.8,3611.0 749.4,3609.0 749.9,3607.1 750.4,3605.2 751.0,3603.2 751.5,3601.3 752.0,3599.4 752.6,3597.5 753.1,3595.5 753.6,3593.6 754.2,3591.7 754.7,3589.8 755.3,3587.8 755.8,3585.9 756.4,3584.0 756.9,3582.1 757.5,3580.1 758.0,3578.2 758.6,3576.3 759.1,3574.4 759.7,3572.4 760.3,3570.5 760.8,3568.6 761.4,3566.7 761.9,3564.8 762.5,3562.8 763.1,3560.9 763.6,3559.0 764.2,3557.1 764.8,3555.2 765.4,3553.2 765.9,3551.3 766.5,3549.4 767.1,3547.5 767.7,3545.6 768.3,3543.7 768.9,3541.7 769.4,3539.8 770.0,3537.9 770.6,3536.0 771.2,3534.1 771.8,3532.2 772.4,3530.3 773.0,3528.3 773.6,3526.4 774.2,3524.5 774.8,3522.6 775.4,3520.7 776.0,3518.8 776.7,3516.9 777.3,3515.0 777.9,3513.1 778.5,3511.2 779.1,3509.3 779.8,3507.4 780.4,3505.5 781.0,3503.6 781.6,3501.7 782.3,3499.8 782.9,3497.9 783.5,3496.0 784.2,3494.1 784.8,3492.2 785.5,3490.3 786.1,3488.4 786.8,3486.5 787.4,3484.6 788.1,3482.7 788.7,3480.8 789.4,3479.0 790.1,3477.1 790.7,3475.2 791.4,3473.3 792.1,3471.4 792.7,3469.5 793.4,3467.7 794.1,3465.8 794.8,3463.9 795.5,3462.0 796.1,3460.1 796.8,3458.3 797.5,3456.4 798.2,3454.5 798.9,3452.7 799.6,3450.8 800.3,3448.9 801.0,3447.1 801.7,3445.2 802.5,3443.3 803.2,3441.5 803.9,3439.6 804.6,3437.7 805.3,3435.9 806.1,3434.0 806.8,3432.2 807.5,3430.3 808.3,3428.5 809.0,3426.6 809.8,3424.8 810.5,3422.9 811.2,3421.1 812.0,3419.2 812.8,3417.4 813.5,3415.5 814.3,3413.7 815.0,3411.9 815.8,3410.0 816.6,3408.2 817.4,3406.3 818.1,3404.5 818.9,3402.7 819.7,3400.9 820.5,3399.0 821.3,3397.2 822.1,3395.4 822.9,3393.6 823.7,3391.7 824.5,3389.9 825.3,3388.1 826.1,3386.3 826.9,3384.5 827.8,3382.7 828.6,3380.9 829.4,3379.0 830.2,3377.2 831.1,3375.4 831.9,3373.6 832.8,3371.8 833.6,3370.0 834.4,3368.2 835.3,3366.4 836.2,3364.6 837.0,3362.9 837.9,3361.1 838.7,3359.3 839.6,3357.5 840.5,3355.7 841.4,3353.9 842.2,3352.1 843.1,3350.4 844.0,3348.6 844.9,3346.8 845.8,3345.0 846.7,3343.3 847.6,3341.5 848.5,3339.7 849.4,3337.9 850.3,3336.2 851.2,3334.4 852.2,3332.6 853.1,3330.9 854.0,3329.1 854.9,3327.4 855.9,3325.6 856.8,3323.8 857.8,3322.1 858.7,3320.3 859.7,3318.6 860.6,3316.8 861.6,3315.1 862.5,3313.3 863.5,3311.6 864.4,3309.8 865.4,3308.1 866.4,3306.3 867.4,3304.6 868.3,3302.9 869.3,3301.1 870.3,3299.4 871.3,3297.6 872.3,3295.9 873.3,3294.2 874.3,3292.4 875.3,3290.7 876.3,3289.0 877.3,3287.3 878.3,3285.5 879.4,3283.8 880.4,3282.1 881.4,3280.3 882.4,3278.6 883.5,3276.9 884.5,3275.2 885.5,3273.5 886.6,3271.7 887.6,3270.0 888.7,3268.3 889.7,3266.6 890.8,3264.9 891.9,3263.2 892.9,3261.5 894.0,3259.8 895.1,3258.0 896.1,3256.3 897.2,3254.6 898.3,3252.9 899.4,3251.2 900.5,3249.5 901.6,3247.8 902.7,3246.1 903.8,3244.4 904.9,3242.7 906.0,3241.0 907.1,3239.4 908.2,3237.7 909.3,3236.0 910.5,3234.3 911.6,3232.6 912.7,3230.9 913.9,3229.3 915.0,3227.6 916.2,3225.9 917.3,3224.3 918.5,3222.6 919.6,3221.0 920.8,3219.3 922.0,3217.7 923.1,3216.0 924.3,3214.4 925.5,3212.7 926.7,3211.1 927.9,3209.5 929.1,3207.8 930.3,3206.2 931.5,3204.6 932.7,3203.0 933.9,3201.4 935.2,3199.8 936.4,3198.2 937.6,3196.6 938.9,3195.0 940.1,3193.4 941.4,3191.9 942.6,3190.3 943.9,3188.7 945.1,3187.2 946.4,3185.6 947.7,3184.1 949.0,3182.5 950.3,3181.0 951.6,3179.5 952.9,3177.9 954.2,3176.4 955.5,3174.9 956.8,3173.4 958.1,3171.9 959.5,3170.4 960.8,3169.0 962.1,3167.5 963.5,3166.0 964.8,3164.6 966.2,3163.1 967.6,3161.7 968.9,3160.2 970.3,3158.8 971.7,3157.4 973.1,3156.0 974.5,3154.6 975.9,3153.2 977.3,3151.8 978.7,3150.4 980.1,3149.0 981.6,3147.7 983.0,3146.3 984.5,3145.0 985.9,3143.6 987.4,3142.3 988.8,3141.0 990.3,3139.7 991.8,3138.4 993.3,3137.1 994.8,3135.8 996.2,3134.6 997.8,3133.3 999.3,3132.1 1000.8,3130.8 1002.3,3129.6 1003.9,3128.4 1005.4,3127.2 1006.9,3126.0 1008.5,3124.8 1010.1,3123.6 1011.6,3122.5 1013.2,3121.3 1014.8,3120.2 1016.4,3119.0 1018.0,3117.9 1019.6,3116.8 1021.2,3115.7 1022.9,3114.6 1024.5,3113.5 1026.1,3112.5 1027.8,3111.4 1029.4,3110.4 1031.1,3109.4 1032.8,3108.4 1034.5,3107.3 1036.1,3106.4 1037.8,3105.4 1039.5,3104.4 1041.2,3103.4 1043.0,3102.5 1044.7,3101.5 1046.4,3100.6 1048.1,3099.7 1049.9,3098.8 1051.6,3097.9 1053.4,3097.0 1055.1,3096.1 1056.9,3095.3 1058.7,3094.4 1060.4,3093.5 1062.2,3092.7 1064.0,3091.9 1065.8,3091.1 1067.6,3090.3 1069.4,3089.5 1071.2,3088.7 1073.1,3087.9 1074.9,3087.1 1076.7,3086.4 1078.5,3085.6 1080.4,3084.9 1082.2,3084.1 1084.1,3083.4 1085.9,3082.7 1087.8,3082.0 1089.7,3081.3 1091.5,3080.6 1093.4,3079.9 1095.3,3079.3 1097.2,3078.6 1099.1,3078.0 1101.0,3077.3 1102.9,3076.7 1104.8,3076.1 1106.7,3075.4 1108.6,3074.8 1110.5,3074.2 1112.4,3073.6 1114.3,3073.0 1116.3,3072.5 1118.2,3071.9 1120.1,3071.3 1122.1,3070.8 1124.0,3070.2 1125.9,3069.7 1127.9,3069.2 1129.9,3068.6 1131.8,3068.1 1133.8,3067.6 1135.7,3067.1 1137.7,3066.6 1139.7,3066.1 1141.6,3065.7 1143.6,3065.2 1145.6,3064.7 1147.6,3064.3 1149.5,3063.8 1151.5,3063.4 1153.5,3062.9 1155.5,3062.5 1157.5,3062.1 1159.5,3061.7 1161.5,3061.3 1163.5,3060.9 1165.5,3060.5 1167.5,3060.1 1169.5,3059.7 1171.5,3059.3 1173.5,3058.9 1175.5,3058.6 1177.5,3058.2 1179.5,3057.9 1181.5,3057.5 1183.6,3057.2 1185.6,3056.8 1187.6,3056.5 1189.6,3056.2 1191.6,3055.8 1193.6,3055.5 1195.7,3055.2 1197.7,3054.9 1199.7,3054.6 1201.7,3054.3 1203.8,3054.0 1205.8,3053.7 1207.8,3053.5 1209.8,3053.2 1211.9,3052.9 1213.9,3052.7 1215.9,3052.4 1217.9,3052.1 1220.0,3051.9 1222.0,3051.6 1224.0,3051.4 1226.0,3051.2 1228.1,3050.9 1230.1,3050.7 1232.1,3050.5 1234.2,3050.2 1236.2,3050.0 1238.2,3049.8 1240.2,3049.6 1242.2,3049.4 1244.3,3049.2 1246.3,3049.0 1248.3,3048.8 1250.3,3048.6 1252.3,3048.4 1254.4,3048.2 1256.4,3048.1 1258.4,3047.9 1260.4,3047.7 1262.4,3047.5 1264.4,3047.4 1266.4,3047.2 1268.4,3047.0 1270.4,3046.9 1272.4,3046.7 1274.4,3046.6 1276.4,3046.4 1278.4,3046.3 1280.4,3046.1 1282.4,3046.0 1284.4,3045.8 1286.4,3045.7 1288.4,3045.6 1290.3,3045.4 1292.3,3045.3 1294.3,3045.2 1296.3,3045.0 1298.2,3044.9 1300.2,3044.8 1302.2,3044.7 1304.1,3044.5 1306.1,3044.4 1308.0,3044.3 1310.0,3044.2 1311.9,3044.1 1313.9,3044.0 1315.8,3043.8 1317.8,3043.7 1319.7,3043.6 1321.6,3043.5 1323.5,3043.4 1325.5,3043.3 1327.4,3043.2 1329.3,3043.1 1331.2,3043.0 1333.1,3042.9 1335.0,3042.8 1336.9,3042.7 1338.8,3042.6 1340.7,3042.5 1342.6,3042.4 1344.5,3042.3 1349.4,3041.9 1355.1,3041.4 1361.8,3040.9 1369.4,3040.3 1377.5,3039.7 1386.0,3039.0 1394.8,3038.4 1403.5,3037.7 1412.0,3037.1 1420.0,3036.5 1427.8,3035.9 1435.6,3035.4 1443.5,3034.8 1451.4,3034.2 1459.4,3033.6 1467.4,3033.0 1475.5,3032.5 1483.6,3032.0 1491.8,3031.5 1500.0,3031.0 1508.2,3030.6 1516.2,3030.1 1524.2,3029.7 1532.2,3029.3 1540.3,3029.0 1548.6,3028.6 1557.1,3028.3 1566.0,3028.0 1575.3,3027.7 1585.0,3027.5 1595.4,3027.3 1606.3,3027.1 1617.8,3027.0 1629.6,3026.9 1641.6,3026.8 1653.6,3026.8 1665.7,3026.7 1677.5,3026.7 1689.0,3026.6 1700.0,3026.6 1710.8,3026.6 1721.5,3026.5 1732.1,3026.5 1742.6,3026.5 1752.9,3026.5 1763.0,3026.5 1772.8,3026.5 1782.3,3026.4 1791.4,3026.4 1800.0,3026.4 1808.2,3026.4 1816.0,3026.3 1823.4,3026.3 1830.5,3026.3 1837.3,3026.3 1843.8,3026.2 1850.2,3026.2 1856.3,3026.1 1862.2,3026.1 1868.0,3026.0 1873.7,3025.9 1879.1,3025.8 1884.4,3025.7 1889.4,3025.6 1894.3,3025.5 1898.9,3025.4 1903.3,3025.3 1907.4,3025.1 1911.4,3024.9 1915.0,3024.7 1918.3,3024.5 1921.3,3024.2 1923.9,3024.0 1926.3,3023.8 1928.5,3023.5 1930.5,3023.2 1932.5,3022.8 1934.4,3022.4 1936.3,3021.9 1938.4,3021.4 1940.5,3020.8 1942.5,3020.1 1944.6,3019.4 1946.5,3018.6 1948.4,3017.7 1950.3,3016.8 1952.1,3015.9 1953.9,3015.0 1955.6,3014.0 1957.3,3013.0 1958.9,3012.0 1960.5,3010.9 1962.0,3009.9 1963.5,3008.8 1964.9,3007.6 1966.3,3006.4 1967.7,3005.2 1969.0,3003.9 1970.2,3002.6 1971.4,3001.2 1972.5,2999.8 1973.6,2998.4 1974.7,2997.0 1975.7,2995.5 1976.7,2994.0 1977.6,2992.4 1978.4,2990.7 1979.3,2988.9 1980.0,2986.9 1980.8,2984.7 1981.5,2982.3 1982.2,2979.6 1982.8,2976.8 1983.3,2973.8 1983.9,2970.7 1984.4,2967.6 1984.8,2964.5 1985.3,2961.4 1985.7,2958.4 1986.1,2955.5 1986.5,2952.7 1986.8,2950.0 1987.1,2947.3 1987.4,2944.6 1987.7,2941.9 1987.9,2939.2 1988.2,2936.6 1988.4,2933.9 1988.6,2931.3 1988.8,2928.6 1989.0,2925.9 1989.1,2923.3 1989.3,2920.7 1989.4,2918.1 1989.5,2915.5 1989.6,2912.8 1989.7,2910.2 1989.9,2907.4 1990.0,2904.6 1990.1,2901.7 1990.2,2898.5 1990.4,2895.1 1990.6,2891.4 1990.7,2887.7 1990.9,2883.9 1991.0,2880.3 1991.2,2877.0 1991.3,2874.0 1991.4,2871.4 1991.5,2869.5" fill="none" stroke="#555555" stroke-width="4.5" stroke-linejoin="round" stroke-linecap="butt" />
<polyline points="754.9,2909.0 756.9,2909.1 758.9,2909.2 760.9,2909.3 762.9,2909.4 764.9,2909.5 766.8,2909.6 768.8,2909.7 770.8,2909.8 772.8,2909.9 774.8,2910.1 776.8,2910.2 778.8,2910.3 780.8,2910.5 782.8,2910.6 784.8,2910.8 786.8,2910.9 788.8,2911.1 790.8,2911.2 792.8,2911.4 794.8,2911.6 796.8,2911.7 798.8,2911.9 800.7,2912.1 802.7,2912.3 804.7,2912.4 806.7,2912.6 808.7,2912.8 810.7,2913.0 812.7,2913.2 814.7,2913.3 816.7,2913.5 818.7,2913.7 820.7,2913.9 822.7,2914.1 824.7,2914.3 826.7,2914.4 828.7,2914.6 830.7,2914.8 832.7,2915.0 834.7,2915.1 836.7,2915.3 838.7,2915.5 840.7,2915.7 842.7,2915.8 844.7,2916.0 846.7,2916.1 848.7,2916.3 850.7,2916.4 852.7,2916.6 854.7,2916.7 856.7,2916.9 858.7,2917.0 860.7,2917.1 862.7,2917.2 864.7,2917.3 866.7,2917.5 868.7,2917.6 870.7,2917.7 872.7,2917.7 874.6,2917.8 876.6,2917.9 878.6,2918.0 880.6,2918.0 882.6,2918.1 884.6,2918.1 886.6,2918.2 888.6,2918.2 890.6,2918.2 892.6,2918.2 894.6,2918.2 896.6,2918.2 898.6,2918.2 900.6,2918.2 902.6,2918.1 904.6,2918.1 906.6,2918.0 908.6,2917.9 910.6,2917.9 912.6,2917.8 914.6,2917.7 916.6,2917.5 918.6,2917.4 920.6,2917.3 922.5,2917.1 924.5,2917.0 926.5,2916.8 928.5,2916.7 930.5,2916.5 932.5,2916.4 934.5,2916.2 936.5,2916.0 938.5,2915.9 940.5,2915.7 942.5,2915.6 944.5,2915.4 946.4,2915.3 948.4,2915.2 950.4,2915.0 952.4,2914.9 954.4,2914.8 956.4,2914.7 958.4,2914.6 960.4,2914.6 962.3,2914.5 964.3,2914.4 966.3,2914.4 968.3,2914.4 970.3,2914.3 972.3,2914.3 974.2,2914.3 976.2,2914.4 978.2,2914.4 980.2,2914.4 982.2,2914.5 984.2,2914.6 986.1,2914.7 988.1,2914.8 990.1,2914.9 992.1,2915.0 994.1,2915.1 996.0,2915.3 998.0,2915.4 1000.0,2915.5 1002.0,2915.7 1004.0,2915.9 1006.0,2916.0 1007.9,2916.2 1009.9,2916.4 1011.9,2916.5 1013.9,2916.7 1015.9,2916.9 1017.9,2917.0 1019.8,2917.2 1021.8,2917.3 1023.8,2917.5 1025.8,2917.6 1027.8,2917.8 1029.8,2917.9 1031.8,2918.0 1033.8,2918.2 1035.8,2918.3 1037.8,2918.4 1039.7,2918.6 1041.7,2918.7 1043.7,2918.8 1045.7,2918.9 1047.7,2919.1 1049.7,2919.2 1051.7,2919.3 1053.7,2919.4 1055.7,2919.5 1057.7,2919.6 1059.7,2919.7 1061.7,2919.8 1063.7,2919.9 1065.7,2920.0 1067.7,2920.1 1069.7,2920.2 1071.7,2920.3 1073.7,2920.4 1075.7,2920.4 1077.7,2920.5 1079.7,2920.6 1081.7,2920.7 1083.7,2920.8 1085.7,2920.9 1087.7,2920.9 1089.7,2921.0 1091.7,2921.1 1093.7,2921.1 1095.7,2921.2 1097.7,2921.3 1099.7,2921.4 1101.7,2921.4 1103.7,2921.5 1105.7,2921.6 1107.7,2921.6 1109.7,2921.7 1111.7,2921.7 1113.7,2921.8 1115.7,2921.9 1117.7,2921.9 1119.7,2922.0 1121.7,2922.0 1123.7,2922.1 1125.7,2922.1 1127.7,2922.2 1129.7,2922.2 1131.7,2922.3 1133.7,2922.3 1135.7,2922.4 1137.7,2922.4 1139.7,2922.5 1141.7,2922.5 1143.7,2922.6 1145.7,2922.6 1147.7,2922.7 1149.7,2922.7 1151.7,2922.8 1153.7,2922.8 1155.7,2922.8 1157.7,2922.9 1159.7,2922.9 1161.7,2923.0 1163.7,2923.0 1165.7,2923.0 1167.7,2923.1 1169.7,2923.1 1171.7,2923.2 1173.7,2923.2 1175.7,2923.2 1177.7,2923.3 1179.7,2923.3 1181.7,2923.3 1183.7,2923.4 1185.7,2923.4 1187.7,2923.4 1189.7,2923.5 1191.7,2923.5 1193.7,2923.5 1195.7,2923.5 1197.7,2923.6 1199.7,2923.6 1201.7,2923.6 1203.7,2923.7 1205.7,2923.7 1207.7,2923.7 1209.7,2923.7 1211.7,2923.8 1213.7,2923.8 1215.7,2923.8 1217.7,2923.9 1219.7,2923.9 1221.6,2923.9 1223.6,2923.9 1225.6,2924.0 1227.6,2924.0 1229.6,2924.0 1231.6,2924.0 1233.6,2924.1 1235.6,2924.1 1237.6,2924.1 1239.6,2924.1 1241.6,2924.2 1243.6,2924.2 1245.6,2924.2 1247.6,2924.2 1249.6,2924.3 1251.6,2924.3 1253.6,2924.3 1255.6,2924.3 1257.6,2924.4 1259.6,2924.4 1261.6,2924.4 1263.6,2924.4 1265.6,2924.5 1267.6,2924.5 1269.6,2924.5 1271.6,2924.5 1273.6,2924.6 1275.6,2924.6 1277.6,2924.6 1279.6,2924.6 1281.6,2924.7 1283.6,2924.7 1285.6,2924.7 1287.6,2924.7 1289.6,2924.8 1291.6,2924.8 1293.6,2924.8 1295.6,2924.9 1297.6,2924.9 1299.6,2924.9 1301.6,2924.9 1303.6,2925.0 1305.6,2925.0 1307.6,2925.0 1309.6,2925.1 1311.6,2925.1 1313.6,2925.1 1315.6,2925.2 1317.6,2925.2 1319.6,2925.2 1321.6,2925.3 1323.6,2925.3 1325.6,2925.3 1327.6,2925.4 1329.6,2925.4 1331.6,2925.5 1333.6,2925.5 1335.6,2925.5 1337.6,2925.6 1339.6,2925.6 1341.6,2925.6 1343.6,2925.7 1345.6,2925.7 1347.6,2925.8 1349.6,2925.8 1351.6,2925.9 1353.6,2925.9 1355.6,2926.0 1357.6,2926.0" fill="none" stroke="#FA3C3C" stroke-width="5" stroke-linejoin="round" stroke-linecap="butt" />
<polyline points="754.9,2962.3 756.9,2962.0 758.8,2961.6 760.8,2961.3 762.7,2961.0 764.7,2960.7 766.7,2960.4 768.7,2960.1 770.6,2959.8 772.6,2959.6 774.6,2959.3 776.6,2959.1 778.6,2958.9 780.5,2958.7 782.5,2958.5 784.5,2958.3 786.5,2958.2 788.5,2958.0 790.5,2957.9 792.5,2957.7 794.5,2957.6 796.5,2957.5 798.5,2957.4 800.5,2957.3 802.5,2957.2 804.5,2957.1 806.5,2957.1 808.5,2957.0 810.5,2957.0 812.5,2956.9 814.5,2956.9 816.5,2956.9 818.5,2956.9 820.5,2956.9 822.5,2956.9 824.5,2956.9 826.5,2956.9 828.5,2956.9 830.5,2956.9 832.5,2956.9 834.5,2957.0 836.5,2957.0 838.5,2957.1 840.5,2957.1 842.5,2957.2 844.5,2957.2 846.5,2957.3 848.5,2957.4 850.5,2957.4 852.5,2957.5 854.5,2957.6 856.5,2957.7 858.5,2957.8 860.5,2957.9 862.5,2958.0 864.5,2958.1 866.5,2958.2 868.5,2958.3 870.5,2958.4 872.5,2958.5 874.4,2958.6 876.4,2958.7 878.4,2958.8 880.4,2958.9 882.4,2959.0 884.3,2959.1 886.3,2959.2 888.3,2959.3 890.3,2959.4 892.2,2959.5 894.2,2959.6 896.1,2959.7 898.1,2959.8 900.1,2959.9 902.0,2960.0 904.0,2960.1 905.9,2960.1 907.9,2960.2 909.8,2960.2 911.8,2960.2 913.7,2960.1 915.7,2960.1 917.7,2960.0 919.6,2959.9 921.6,2959.8 923.5,2959.6 925.5,2959.5 927.4,2959.3 929.4,2959.2 931.4,2959.0 933.3,2958.8 935.3,2958.6 937.2,2958.4 939.2,2958.2 941.2,2958.0 943.2,2957.9 945.1,2957.7 947.1,2957.5 949.1,2957.3 951.1,2957.1 953.0,2957.0 955.0,2956.8 957.0,2956.6 959.0,2956.4 961.0,2956.2 962.9,2956.1 964.9,2955.9 966.9,2955.7 968.9,2955.6 970.9,2955.4 972.9,2955.2 974.9,2955.1 976.9,2954.9 978.9,2954.8 980.8,2954.6 982.8,2954.4 984.8,2954.3 986.8,2954.1 988.8,2954.0 990.8,2953.8 992.8,2953.7 994.8,2953.6 996.8,2953.4 998.8,2953.3 1000.8,2953.1 1002.8,2953.0 1004.8,2952.9 1006.8,2952.7 1008.8,2952.6 1010.7,2952.5 1012.7,2952.3 1014.7,2952.2 1016.7,2952.1 1018.7,2952.0 1020.7,2951.9 1022.7,2951.7 1024.7,2951.6 1026.7,2951.5 1028.7,2951.4 1030.7,2951.3 1032.7,2951.2 1034.7,2951.1 1036.7,2951.0 1038.7,2950.9 1040.7,2950.8 1042.6,2950.7 1044.6,2950.6 1046.6,2950.5 1048.6,2950.4 1050.6,2950.3 1052.6,2950.2 1054.6,2950.1 1056.6,2950.0 1058.6,2950.0 1060.6,2949.9 1062.6,2949.8 1064.6,2949.7 1066.6,2949.6 1068.6,2949.6 1070.6,2949.5 1072.5,2949.4 1074.5,2949.3 1076.5,2949.3 1078.5,2949.2 1080.5,2949.1 1082.5,2949.1 1084.5,2949.0 1086.5,2948.9 1088.5,2948.9 1090.5,2948.8 1092.5,2948.7 1094.5,2948.7 1096.5,2948.6 1098.5,2948.6 1100.5,2948.5 1102.4,2948.5 1104.4,2948.4 1106.4,2948.4 1108.4,2948.3 1110.4,2948.3 1112.4,2948.2 1114.4,2948.2 1116.4,2948.1 1118.4,2948.1 1120.4,2948.0 1122.4,2948.0 1124.4,2948.0 1126.4,2947.9 1128.4,2947.9 1130.3,2947.8 1132.3,2947.8 1134.3,2947.8 1136.3,2947.7 1138.3,2947.7 1140.3,2947.7 1142.3,2947.6 1144.3,2947.6 1146.3,2947.6 1148.3,2947.5 1150.3,2947.5 1152.3,2947.5 1154.3,2947.5 1156.3,2947.4 1158.2,2947.4 1160.2,2947.4 1162.2,2947.4 1164.2,2947.3 1166.2,2947.3 1168.2,2947.3 1170.2,2947.3 1172.2,2947.2 1174.2,2947.2 1176.2,2947.2 1178.2,2947.2 1180.2,2947.2 1182.2,2947.2 1184.2,2947.1 1186.1,2947.1 1188.1,2947.1 1190.1,2947.1 1192.1,2947.1 1194.1,2947.1 1196.1,2947.0 1198.1,2947.0 1200.1,2947.0 1202.1,2947.0 1204.1,2947.0 1206.1,2947.0 1208.1,2947.0 1210.1,2947.0 1212.1,2946.9 1214.0,2946.9 1216.0,2946.9 1218.0,2946.9 1220.0,2946.9 1222.0,2946.9 1224.0,2946.9 1226.0,2946.9 1228.0,2946.9 1230.0,2946.9 1232.0,2946.9 1234.0,2946.8 1236.0,2946.8 1238.0,2946.8 1240.0,2946.8 1242.0,2946.8 1243.9,2946.8 1245.9,2946.8 1247.9,2946.8 1249.9,2946.8 1251.9,2946.8 1253.9,2946.8 1255.9,2946.8 1257.9,2946.7 1259.9,2946.7 1261.9,2946.7 1263.9,2946.7 1265.9,2946.7 1267.9,2946.7 1269.9,2946.7 1271.9,2946.7 1273.8,2946.7 1275.8,2946.7 1277.8,2946.7 1279.8,2946.7 1281.8,2946.6 1283.8,2946.6 1285.8,2946.6 1287.8,2946.6 1289.8,2946.6 1291.8,2946.6 1293.8,2946.6 1295.8,2946.6 1297.8,2946.5 1299.8,2946.5 1301.8,2946.5 1303.8,2946.5 1305.7,2946.5 1307.7,2946.5 1309.7,2946.5 1311.7,2946.4 1313.7,2946.4 1315.7,2946.4 1317.7,2946.4 1319.7,2946.4 1321.7,2946.4 1323.7,2946.3 1325.7,2946.3 1327.7,2946.3 1329.7,2946.3 1331.7,2946.3 1333.7,2946.2 1335.7,2946.2 1337.7,2946.2 1339.7,2946.2 1341.6,2946.1 1343.6,2946.1 1345.6,2946.1 1347.6,2946.1 1349.6,2946.0 1351.6,2946.0 1353.6,2946.0 1355.6,2945.9 1357.6,2945.9" fill="none" stroke="#FA3C3C" stroke-width="5" stroke-linejoin="round" stroke-linecap="butt" />
<polyline points="754.9,2883.6 756.9,2883.9 758.8,2884.1 760.8,2884.4 762.8,2884.6 764.7,2884.9 766.7,2885.2 768.7,2885.5 770.6,2885.8 772.6,2886.0 774.6,2886.3 776.5,2886.6 778.5,2886.9 780.5,2887.2 782.4,2887.5 784.4,2887.8 786.4,2888.1 788.4,2888.5 790.3,2888.8 792.3,2889.1 794.3,2889.4 796.2,2889.7 798.2,2890.0 800.2,2890.3 802.2,2890.6 804.2,2890.9 806.1,2891.3 808.1,2891.6 810.1,2891.9 812.1,2892.2 814.0,2892.5 816.0,2892.8 818.0,2893.1 820.0,2893.4 822.0,2893.7 823.9,2893.9 825.9,2894.2 827.9,2894.5 829.9,2894.8 831.9,2895.0 833.9,2895.3 835.8,2895.6 837.8,2895.8 839.8,2896.1 841.8,2896.3 843.8,2896.5 845.8,2896.7 847.7,2897.0 849.7,2897.2 851.7,2897.4 853.7,2897.6 855.7,2897.7 857.7,2897.9 859.7,2898.1 861.7,2898.2 863.6,2898.4 865.6,2898.5 867.6,2898.6 869.6,2898.8 871.6,2898.9 873.6,2898.9 875.6,2899.0 877.6,2899.1 879.6,2899.2 881.6,2899.2 883.6,2899.2 885.5,2899.2 887.5,2899.2 889.5,2899.2 891.5,2899.2 893.5,2899.2 895.5,2899.1 897.5,2899.1 899.5,2899.0 901.5,2898.9 903.5,2898.8 905.5,2898.6 907.5,2898.5 909.5,2898.3 911.5,2898.1 913.4,2897.9 915.4,2897.7 917.4,2897.5 919.4,2897.2 921.4,2897.0 923.4,2896.7 925.4,2896.5 927.4,2896.2 929.4,2895.9 931.4,2895.6 933.4,2895.3 935.4,2895.1 937.3,2894.8 939.3,2894.5 941.3,2894.3 943.3,2894.0 945.3,2893.8 947.3,2893.5 949.2,2893.3 951.2,2893.1 953.2,2892.9 955.2,2892.8 957.1,2892.6 959.1,2892.5 961.1,2892.4 963.0,2892.3 965.0,2892.3 966.9,2892.2 968.9,2892.2 970.9,2892.3 972.8,2892.3 974.8,2892.4 976.7,2892.5 978.7,2892.6 980.6,2892.8 982.5,2893.0 984.5,2893.3 986.4,2893.5 988.4,2893.8 990.3,2894.2 992.2,2894.5 994.1,2894.9 996.1,2895.3 998.0,2895.7 999.9,2896.1 1001.9,2896.5 1003.8,2896.9 1005.7,2897.4 1007.7,2897.8 1009.6,2898.2 1011.5,2898.7 1013.5,2899.1 1015.4,2899.5 1017.4,2900.0 1019.3,2900.4 1021.2,2900.8 1023.2,2901.1 1025.1,2901.5 1027.1,2901.9 1029.1,2902.2 1031.0,2902.6 1033.0,2902.9 1034.9,2903.2 1036.9,2903.5 1038.9,2903.8 1040.8,2904.1 1042.8,2904.4 1044.8,2904.6 1046.8,2904.9 1048.7,2905.1 1050.7,2905.4 1052.7,2905.6 1054.7,2905.8 1056.6,2906.1 1058.6,2906.3 1060.6,2906.5 1062.6,2906.6 1064.6,2906.8 1066.6,2907.0 1068.6,2907.2 1070.5,2907.3 1072.5,2907.5 1074.5,2907.6 1076.5,2907.8 1078.5,2907.9 1080.5,2908.0 1082.5,2908.1 1084.5,2908.2 1086.5,2908.4 1088.5,2908.5 1090.5,2908.5 1092.5,2908.6 1094.5,2908.7 1096.5,2908.8 1098.5,2908.9 1100.5,2909.0 1102.5,2909.0 1104.4,2909.1 1106.4,2909.1 1108.4,2909.2 1110.4,2909.3 1112.4,2909.3 1114.4,2909.4 1116.4,2909.4 1118.4,2909.4 1120.4,2909.5 1122.4,2909.5 1124.4,2909.6 1126.4,2909.6 1128.4,2909.6 1130.4,2909.7 1132.4,2909.7 1134.4,2909.7 1136.4,2909.7 1138.4,2909.8 1140.4,2909.8 1142.4,2909.8 1144.4,2909.9 1146.4,2909.9 1148.4,2909.9 1150.3,2909.9 1152.3,2910.0 1154.3,2910.0 1156.3,2910.1 1158.3,2910.1 1160.3,2910.1 1162.3,2910.2 1164.3,2910.2 1166.3,2910.3 1168.3,2910.3 1170.3,2910.4 1172.3,2910.4 1174.3,2910.5 1176.3,2910.5 1178.3,2910.6 1180.3,2910.7 1182.2,2910.8 1184.2,2910.8 1186.2,2910.9 1188.2,2911.0 1190.2,2911.1 1192.2,2911.1 1194.2,2911.2 1196.2,2911.3 1198.2,2911.4 1200.2,2911.5 1202.2,2911.6 1204.2,2911.7 1206.2,2911.7 1208.1,2911.8 1210.1,2911.9 1212.1,2912.0 1214.1,2912.1 1216.1,2912.2 1218.1,2912.3 1220.1,2912.4 1222.1,2912.5 1224.1,2912.6 1226.1,2912.7 1228.1,2912.8 1230.0,2912.9 1232.0,2913.1 1234.0,2913.2 1236.0,2913.3 1238.0,2913.4 1240.0,2913.5 1242.0,2913.6 1244.0,2913.7 1246.0,2913.8 1248.0,2913.9 1250.0,2914.0 1252.0,2914.1 1253.9,2914.2 1255.9,2914.3 1257.9,2914.4 1259.9,2914.5 1261.9,2914.6 1263.9,2914.7 1265.9,2914.8 1267.9,2914.9 1269.9,2915.0 1271.9,2915.1 1273.9,2915.2 1275.8,2915.3 1277.8,2915.4 1279.8,2915.5 1281.8,2915.6 1283.8,2915.7 1285.8,2915.8 1287.8,2915.9 1289.8,2916.0 1291.8,2916.1 1293.8,2916.1 1295.8,2916.2 1297.8,2916.3 1299.8,2916.4 1301.7,2916.4 1303.7,2916.5 1305.7,2916.6 1307.7,2916.7 1309.7,2916.7 1311.7,2916.8 1313.7,2916.8 1315.7,2916.9 1317.7,2916.9 1319.7,2917.0 1321.7,2917.0 1323.7,2917.1 1325.7,2917.1 1327.7,2917.2 1329.7,2917.2 1331.7,2917.2 1333.6,2917.3 1335.6,2917.3 1337.6,2917.3 1339.6,2917.3 1341.6,2917.3 1343.6,2917.3 1345.6,2917.4 1347.6,2917.4 1349.6,2917.4 1351.6,2917.3 1353.6,2917.3 1355.6,2917.3 1357.6,2917.3" fill="none" stroke="#0066DD" stroke-width="5" stroke-linejoin="round" stroke-linecap="butt" />
<polyline points="754.9,2992.1 756.8,2991.7 758.7,2991.3 760.7,2990.9 762.6,2990.5 764.5,2990.1 766.5,2989.7 768.4,2989.3 770.4,2988.9 772.3,2988.6 774.3,2988.2 776.2,2987.8 778.2,2987.4 780.2,2987.0 782.1,2986.6 784.1,2986.3 786.1,2985.9 788.1,2985.5 790.1,2985.2 792.0,2984.8 794.0,2984.4 796.0,2984.1 798.0,2983.8 800.0,2983.4 802.0,2983.1 804.0,2982.8 806.0,2982.5 808.0,2982.2 810.0,2981.9 812.0,2981.6 814.0,2981.4 816.0,2981.1 818.0,2980.9 820.0,2980.6 822.0,2980.4 824.0,2980.2 826.0,2980.0 828.0,2979.8 830.0,2979.7 832.0,2979.5 834.0,2979.4 836.0,2979.3 838.0,2979.2 840.0,2979.1 842.0,2979.0 844.0,2979.0 846.0,2978.9 848.0,2978.9 850.0,2978.9 852.0,2978.9 854.0,2979.0 856.0,2979.0 858.0,2979.1 860.0,2979.2 862.0,2979.4 864.0,2979.5 865.9,2979.7 867.9,2979.9 869.9,2980.1 871.9,2980.3 873.8,2980.6 875.8,2980.9 877.8,2981.2 879.7,2981.6 881.7,2981.9 883.6,2982.3 885.6,2982.7 887.5,2983.1 889.5,2983.5 891.4,2983.9 893.3,2984.2 895.3,2984.6 897.2,2985.0 899.2,2985.3 901.1,2985.6 903.0,2985.8 905.0,2986.1 906.9,2986.2 908.8,2986.4 910.7,2986.4 912.7,2986.5 914.6,2986.4 916.5,2986.3 918.5,2986.2 920.4,2986.0 922.3,2985.7 924.2,2985.5 926.2,2985.1 928.1,2984.8 930.0,2984.4 932.0,2984.0 933.9,2983.6 935.8,2983.2 937.8,2982.7 939.7,2982.3 941.7,2981.8 943.6,2981.3 945.6,2980.9 947.5,2980.4 949.5,2980.0 951.4,2979.6 953.4,2979.1 955.3,2978.7 957.3,2978.3 959.2,2978.0 961.2,2977.6 963.2,2977.2 965.1,2976.8 967.1,2976.5 969.1,2976.1 971.0,2975.8 973.0,2975.5 975.0,2975.2 977.0,2974.8 978.9,2974.5 980.9,2974.2 982.9,2973.9 984.9,2973.6 986.9,2973.4 988.8,2973.1 990.8,2972.8 992.8,2972.5 994.8,2972.3 996.8,2972.0 998.7,2971.7 1000.7,2971.5 1002.7,2971.2 1004.7,2971.0 1006.7,2970.7 1008.7,2970.5 1010.7,2970.2 1012.6,2970.0 1014.6,2969.8 1016.6,2969.5 1018.6,2969.3 1020.6,2969.1 1022.6,2968.9 1024.5,2968.6 1026.5,2968.4 1028.5,2968.2 1030.5,2968.0 1032.5,2967.8 1034.5,2967.6 1036.5,2967.4 1038.5,2967.2 1040.4,2967.0 1042.4,2966.8 1044.4,2966.6 1046.4,2966.4 1048.4,2966.2 1050.4,2966.0 1052.4,2965.8 1054.4,2965.7 1056.4,2965.5 1058.3,2965.3 1060.3,2965.1 1062.3,2965.0 1064.3,2964.8 1066.3,2964.7 1068.3,2964.5 1070.3,2964.3 1072.3,2964.2 1074.3,2964.0 1076.3,2963.9 1078.2,2963.7 1080.2,2963.6 1082.2,2963.4 1084.2,2963.3 1086.2,2963.1 1088.2,2963.0 1090.2,2962.9 1092.2,2962.7 1094.2,2962.6 1096.2,2962.5 1098.2,2962.4 1100.2,2962.2 1102.1,2962.1 1104.1,2962.0 1106.1,2961.9 1108.1,2961.8 1110.1,2961.6 1112.1,2961.5 1114.1,2961.4 1116.1,2961.3 1118.1,2961.2 1120.1,2961.1 1122.1,2961.0 1124.1,2960.9 1126.1,2960.8 1128.1,2960.7 1130.1,2960.6 1132.0,2960.5 1134.0,2960.4 1136.0,2960.3 1138.0,2960.2 1140.0,2960.2 1142.0,2960.1 1144.0,2960.0 1146.0,2959.9 1148.0,2959.8 1150.0,2959.8 1152.0,2959.7 1154.0,2959.6 1156.0,2959.5 1158.0,2959.5 1160.0,2959.4 1162.0,2959.3 1164.0,2959.3 1166.0,2959.2 1168.0,2959.1 1170.0,2959.1 1172.0,2959.0 1173.9,2959.0 1175.9,2958.9 1177.9,2958.9 1179.9,2958.8 1181.9,2958.7 1183.9,2958.7 1185.9,2958.6 1187.9,2958.6 1189.9,2958.5 1191.9,2958.5 1193.9,2958.5 1195.9,2958.4 1197.9,2958.4 1199.9,2958.3 1201.9,2958.3 1203.9,2958.2 1205.9,2958.2 1207.9,2958.2 1209.9,2958.1 1211.9,2958.1 1213.9,2958.1 1215.9,2958.0 1217.9,2958.0 1219.9,2958.0 1221.9,2957.9 1223.9,2957.9 1225.9,2957.9 1227.9,2957.9 1229.8,2957.8 1231.8,2957.8 1233.8,2957.8 1235.8,2957.8 1237.8,2957.7 1239.8,2957.7 1241.8,2957.7 1243.8,2957.7 1245.8,2957.7 1247.8,2957.6 1249.8,2957.6 1251.8,2957.6 1253.8,2957.6 1255.8,2957.6 1257.8,2957.5 1259.8,2957.5 1261.8,2957.5 1263.8,2957.5 1265.8,2957.5 1267.8,2957.5 1269.8,2957.5 1271.8,2957.5 1273.8,2957.4 1275.8,2957.4 1277.8,2957.4 1279.8,2957.4 1281.8,2957.4 1283.8,2957.4 1285.8,2957.4 1287.8,2957.4 1289.8,2957.4 1291.8,2957.4 1293.7,2957.3 1295.7,2957.3 1297.7,2957.3 1299.7,2957.3 1301.7,2957.3 1303.7,2957.3 1305.7,2957.3 1307.7,2957.3 1309.7,2957.3 1311.7,2957.3 1313.7,2957.3 1315.7,2957.3 1317.7,2957.3 1319.7,2957.2 1321.7,2957.2 1323.7,2957.2 1325.7,2957.2 1327.7,2957.2 1329.7,2957.2 1331.7,2957.2 1333.7,2957.2 1335.7,2957.2 1337.7,2957.2 1339.6,2957.2 1341.6,2957.2 1343.6,2957.2 1345.6,2957.1 1347.6,2957.1 1349.6,2957.1 1351.6,2957.1 1353.6,2957.1 1355.6,2957.1 1357.6,2957.1" fill="none" stroke="#0066DD" stroke-width="5" stroke-linejoin="round" stroke-linecap="butt" />
<polyline points="754.9,2857.6 756.8,2857.9 758.8,2858.3 760.7,2858.6 762.6,2859.0 764.6,2859.4 766.5,2859.8 768.4,2860.1 770.4,2860.6 772.3,2861.0 774.2,2861.4 776.2,2861.8 778.1,2862.2 780.1,2862.7 782.0,2863.1 784.0,2863.5 785.9,2864.0 787.9,2864.4 789.8,2864.9 791.8,2865.3 793.7,2865.8 795.7,2866.2 797.6,2866.7 799.6,2867.1 801.5,2867.6 803.5,2868.1 805.5,2868.5 807.4,2869.0 809.4,2869.4 811.3,2869.9 813.3,2870.3 815.3,2870.8 817.2,2871.2 819.2,2871.7 821.2,2872.1 823.1,2872.6 825.1,2873.0 827.1,2873.4 829.0,2873.8 831.0,2874.2 833.0,2874.7 835.0,2875.1 836.9,2875.5 838.9,2875.8 840.9,2876.2 842.9,2876.6 844.8,2877.0 846.8,2877.3 848.8,2877.7 850.8,2878.0 852.8,2878.3 854.7,2878.6 856.7,2878.9 858.7,2879.2 860.7,2879.5 862.7,2879.8 864.7,2880.0 866.6,2880.3 868.6,2880.5 870.6,2880.7 872.6,2880.9 874.6,2881.1 876.6,2881.3 878.6,2881.4 880.6,2881.5 882.5,2881.7 884.5,2881.8 886.5,2881.9 888.5,2881.9 890.5,2882.0 892.5,2882.0 894.5,2882.0 896.5,2882.0 898.5,2882.0 900.5,2881.9 902.4,2881.9 904.4,2881.8 906.4,2881.7 908.4,2881.6 910.4,2881.4 912.4,2881.2 914.4,2881.0 916.4,2880.8 918.4,2880.6 920.4,2880.3 922.4,2880.0 924.4,2879.7 926.3,2879.4 928.3,2879.0 930.3,2878.7 932.3,2878.3 934.3,2877.9 936.3,2877.5 938.2,2877.0 940.2,2876.6 942.2,2876.1 944.2,2875.6 946.1,2875.1 948.1,2874.6 950.0,2874.1 952.0,2873.5 953.9,2873.0 955.9,2872.5 957.8,2872.0 959.8,2871.6 961.7,2871.1 963.6,2870.7 965.5,2870.3 967.5,2870.0 969.4,2869.7 971.3,2869.5 973.2,2869.3 975.1,2869.2 976.9,2869.1 978.8,2869.1 980.7,2869.2 982.6,2869.4 984.4,2869.6 986.3,2869.9 988.1,2870.3 990.0,2870.8 991.8,2871.3 993.6,2871.9 995.5,2872.5 997.3,2873.2 999.1,2873.9 1001.0,2874.6 1002.8,2875.4 1004.7,2876.1 1006.5,2876.9 1008.3,2877.7 1010.2,2878.5 1012.1,2879.3 1013.9,2880.0 1015.8,2880.8 1017.7,2881.6 1019.5,2882.3 1021.4,2883.0 1023.3,2883.8 1025.2,2884.5 1027.1,2885.1 1029.0,2885.8 1030.9,2886.5 1032.9,2887.1 1034.8,2887.7 1036.7,2888.3 1038.6,2888.8 1040.6,2889.4 1042.5,2889.9 1044.5,2890.4 1046.4,2890.8 1048.4,2891.2 1050.3,2891.6 1052.3,2892.0 1054.3,2892.3 1056.3,2892.6 1058.2,2892.8 1060.2,2893.1 1062.2,2893.3 1064.2,2893.5 1066.2,2893.6 1068.2,2893.7 1070.2,2893.9 1072.2,2894.0 1074.2,2894.0 1076.2,2894.1 1078.2,2894.1 1080.2,2894.2 1082.2,2894.2 1084.2,2894.2 1086.2,2894.2 1088.2,2894.2 1090.2,2894.3 1092.2,2894.3 1094.2,2894.3 1096.2,2894.3 1098.3,2894.3 1100.3,2894.3 1102.3,2894.3 1104.3,2894.4 1106.3,2894.4 1108.3,2894.4 1110.3,2894.5 1112.3,2894.6 1114.3,2894.6 1116.3,2894.7 1118.3,2894.8 1120.3,2894.8 1122.3,2894.9 1124.3,2895.0 1126.3,2895.1 1128.3,2895.2 1130.3,2895.3 1132.3,2895.4 1134.2,2895.5 1136.2,2895.6 1138.2,2895.7 1140.2,2895.9 1142.2,2896.0 1144.2,2896.1 1146.2,2896.2 1148.2,2896.4 1150.2,2896.5 1152.2,2896.6 1154.2,2896.8 1156.2,2896.9 1158.1,2897.0 1160.1,2897.2 1162.1,2897.3 1164.1,2897.4 1166.1,2897.6 1168.1,2897.7 1170.1,2897.8 1172.1,2898.0 1174.1,2898.1 1176.1,2898.2 1178.1,2898.4 1180.1,2898.5 1182.0,2898.6 1184.0,2898.8 1186.0,2898.9 1188.0,2899.0 1190.0,2899.2 1192.0,2899.3 1194.0,2899.4 1196.0,2899.5 1198.0,2899.7 1200.0,2899.8 1202.0,2899.9 1204.0,2900.0 1206.0,2900.2 1208.0,2900.3 1209.9,2900.4 1211.9,2900.6 1213.9,2900.7 1215.9,2900.8 1217.9,2900.9 1219.9,2901.0 1221.9,2901.2 1223.9,2901.3 1225.9,2901.4 1227.9,2901.5 1229.9,2901.7 1231.9,2901.8 1233.9,2901.9 1235.9,2902.0 1237.9,2902.1 1239.9,2902.2 1241.9,2902.4 1243.8,2902.5 1245.8,2902.6 1247.8,2902.7 1249.8,2902.8 1251.8,2902.9 1253.8,2903.0 1255.8,2903.2 1257.8,2903.3 1259.8,2903.4 1261.8,2903.5 1263.8,2903.6 1265.8,2903.7 1267.8,2903.8 1269.8,2903.9 1271.8,2904.0 1273.8,2904.1 1275.8,2904.2 1277.8,2904.3 1279.8,2904.4 1281.8,2904.5 1283.8,2904.6 1285.8,2904.7 1287.7,2904.8 1289.7,2904.9 1291.7,2905.0 1293.7,2905.1 1295.7,2905.2 1297.7,2905.3 1299.7,2905.4 1301.7,2905.5 1303.7,2905.6 1305.7,2905.7 1307.7,2905.8 1309.7,2905.9 1311.7,2906.0 1313.7,2906.1 1315.7,2906.1 1317.7,2906.2 1319.7,2906.3 1321.7,2906.4 1323.7,2906.5 1325.7,2906.6 1327.7,2906.7 1329.7,2906.7 1331.7,2906.8 1333.7,2906.9 1335.6,2907.0 1337.6,2907.1 1339.6,2907.1 1341.6,2907.2 1343.6,2907.3 1345.6,2907.4 1347.6,2907.4 1349.6,2907.5 1351.6,2907.6 1353.6,2907.6 1355.6,2907.7 1357.6,2907.8" fill="none" stroke="#00A566" stroke-width="5" stroke-linejoin="round" stroke-linecap="butt" />
<polyline points="754.9,3020.0 756.8,3019.7 758.7,3019.4 760.7,3019.0 762.6,3018.7 764.5,3018.3 766.4,3017.9 768.4,3017.5 770.3,3017.1 772.2,3016.7 774.2,3016.2 776.1,3015.8 778.0,3015.3 780.0,3014.8 781.9,3014.4 783.9,3013.9 785.8,3013.4 787.8,3012.9 789.7,3012.4 791.7,3011.8 793.6,3011.3 795.6,3010.8 797.5,3010.3 799.5,3009.8 801.5,3009.3 803.4,3008.8 805.4,3008.3 807.3,3007.8 809.3,3007.3 811.3,3006.8 813.3,3006.3 815.2,3005.8 817.2,3005.4 819.2,3004.9 821.2,3004.5 823.1,3004.1 825.1,3003.7 827.1,3003.3 829.1,3002.9 831.1,3002.6 833.0,3002.2 835.0,3001.9 837.0,3001.6 839.0,3001.3 841.0,3001.1 843.0,3000.9 845.0,3000.7 847.0,3000.5 849.0,3000.3 851.0,3000.2 853.0,3000.1 855.0,3000.1 856.9,3000.0 858.9,3000.0 860.9,3000.1 862.9,3000.1 864.9,3000.2 866.9,3000.4 868.9,3000.6 870.9,3000.8 872.9,3001.1 874.8,3001.5 876.8,3001.8 878.7,3002.3 880.7,3002.8 882.6,3003.4 884.5,3004.0 886.3,3004.7 888.2,3005.5 890.0,3006.3 891.8,3007.1 893.7,3008.0 895.5,3008.8 897.3,3009.6 899.1,3010.5 900.8,3011.3 902.6,3012.0 904.4,3012.7 906.2,3013.3 908.0,3013.8 909.8,3014.3 911.6,3014.6 913.4,3014.8 915.2,3014.9 917.0,3014.9 918.9,3014.8 920.7,3014.6 922.5,3014.3 924.4,3014.0 926.3,3013.5 928.1,3013.0 930.0,3012.4 931.9,3011.8 933.8,3011.1 935.7,3010.4 937.6,3009.7 939.5,3008.9 941.4,3008.1 943.3,3007.3 945.2,3006.6 947.1,3005.8 949.0,3005.0 950.9,3004.3 952.8,3003.5 954.7,3002.8 956.7,3002.1 958.6,3001.4 960.5,3000.7 962.4,3000.1 964.4,2999.4 966.3,2998.8 968.2,2998.1 970.1,2997.5 972.1,2996.9 974.0,2996.3 975.9,2995.7 977.9,2995.2 979.8,2994.6 981.8,2994.1 983.7,2993.5 985.6,2993.0 987.6,2992.5 989.5,2992.0 991.5,2991.5 993.4,2991.1 995.4,2990.6 997.3,2990.1 999.3,2989.7 1001.2,2989.3 1003.2,2988.8 1005.2,2988.4 1007.1,2988.0 1009.1,2987.6 1011.0,2987.3 1013.0,2986.9 1015.0,2986.5 1016.9,2986.2 1018.9,2985.8 1020.9,2985.5 1022.8,2985.2 1024.8,2984.8 1026.8,2984.5 1028.7,2984.2 1030.7,2983.9 1032.7,2983.7 1034.7,2983.4 1036.6,2983.1 1038.6,2982.8 1040.6,2982.6 1042.6,2982.3 1044.5,2982.1 1046.5,2981.9 1048.5,2981.6 1050.5,2981.4 1052.5,2981.2 1054.4,2981.0 1056.4,2980.8 1058.4,2980.6 1060.4,2980.4 1062.4,2980.2 1064.4,2980.1 1066.4,2979.9 1068.3,2979.7 1070.3,2979.5 1072.3,2979.4 1074.3,2979.2 1076.3,2979.1 1078.3,2979.0 1080.3,2978.8 1082.3,2978.7 1084.3,2978.5 1086.3,2978.4 1088.3,2978.3 1090.3,2978.2 1092.2,2978.1 1094.2,2978.0 1096.2,2977.8 1098.2,2977.7 1100.2,2977.6 1102.2,2977.5 1104.2,2977.4 1106.2,2977.4 1108.2,2977.3 1110.2,2977.2 1112.2,2977.1 1114.2,2977.0 1116.2,2976.9 1118.2,2976.8 1120.2,2976.8 1122.2,2976.7 1124.2,2976.6 1126.2,2976.5 1128.2,2976.4 1130.2,2976.4 1132.2,2976.3 1134.2,2976.2 1136.2,2976.1 1138.2,2976.1 1140.2,2976.0 1142.2,2975.9 1144.2,2975.8 1146.2,2975.8 1148.2,2975.7 1150.2,2975.6 1152.2,2975.5 1154.2,2975.5 1156.2,2975.4 1158.2,2975.3 1160.2,2975.2 1162.1,2975.1 1164.1,2975.0 1166.1,2975.0 1168.1,2974.9 1170.1,2974.8 1172.1,2974.7 1174.1,2974.6 1176.1,2974.5 1178.1,2974.4 1180.1,2974.3 1182.1,2974.2 1184.1,2974.1 1186.1,2974.0 1188.1,2973.9 1190.1,2973.7 1192.1,2973.6 1194.0,2973.5 1196.0,2973.4 1198.0,2973.3 1200.0,2973.2 1202.0,2973.1 1204.0,2973.0 1206.0,2972.8 1208.0,2972.7 1210.0,2972.6 1212.0,2972.5 1214.0,2972.4 1215.9,2972.3 1217.9,2972.1 1219.9,2972.0 1221.9,2971.9 1223.9,2971.8 1225.9,2971.7 1227.9,2971.5 1229.9,2971.4 1231.9,2971.3 1233.9,2971.2 1235.8,2971.1 1237.8,2971.0 1239.8,2970.8 1241.8,2970.7 1243.8,2970.6 1245.8,2970.5 1247.8,2970.4 1249.8,2970.3 1251.8,2970.2 1253.8,2970.0 1255.7,2969.9 1257.7,2969.8 1259.7,2969.7 1261.7,2969.6 1263.7,2969.5 1265.7,2969.4 1267.7,2969.3 1269.7,2969.2 1271.7,2969.1 1273.7,2969.0 1275.7,2968.9 1277.6,2968.9 1279.6,2968.8 1281.6,2968.7 1283.6,2968.6 1285.6,2968.5 1287.6,2968.4 1289.6,2968.4 1291.6,2968.3 1293.6,2968.2 1295.6,2968.2 1297.6,2968.1 1299.6,2968.0 1301.6,2968.0 1303.6,2967.9 1305.6,2967.9 1307.6,2967.8 1309.6,2967.8 1311.5,2967.7 1313.5,2967.7 1315.5,2967.7 1317.5,2967.6 1319.5,2967.6 1321.5,2967.6 1323.5,2967.6 1325.5,2967.6 1327.5,2967.5 1329.5,2967.5 1331.5,2967.5 1333.5,2967.5 1335.5,2967.5 1337.5,2967.5 1339.5,2967.6 1341.6,2967.6 1343.6,2967.6 1345.6,2967.6 1347.6,2967.7 1349.6,2967.7 1351.6,2967.7 1353.6,2967.8 1355.6,2967.9 1357.6,2967.9" fill="none" stroke="#00A566" stroke-width="5" stroke-linejoin="round" stroke-linecap="butt" />
<polyline points="754.9,2806.9 756.8,2807.3 758.7,2807.8 760.6,2808.2 762.5,2808.7 764.4,2809.2 766.3,2809.7 768.2,2810.2 770.1,2810.7 772.0,2811.2 773.9,2811.7 775.9,2812.3 777.8,2812.8 779.7,2813.4 781.6,2814.0 783.5,2814.6 785.4,2815.2 787.3,2815.7 789.2,2816.4 791.1,2817.0 793.0,2817.6 794.9,2818.2 796.8,2818.8 798.7,2819.4 800.6,2820.1 802.5,2820.7 804.5,2821.3 806.4,2822.0 808.3,2822.6 810.2,2823.2 812.1,2823.9 814.0,2824.5 815.9,2825.1 817.9,2825.8 819.8,2826.4 821.7,2827.0 823.6,2827.7 825.5,2828.3 827.4,2828.9 829.4,2829.5 831.3,2830.1 833.2,2830.7 835.1,2831.3 837.1,2831.9 839.0,2832.5 840.9,2833.1 842.8,2833.6 844.8,2834.2 846.7,2834.7 848.6,2835.3 850.6,2835.8 852.5,2836.3 854.4,2836.8 856.4,2837.3 858.3,2837.8 860.3,2838.3 862.2,2838.7 864.1,2839.1 866.1,2839.6 868.0,2840.0 870.0,2840.4 871.9,2840.7 873.9,2841.1 875.8,2841.5 877.8,2841.8 879.7,2842.1 881.7,2842.4 883.6,2842.6 885.6,2842.9 887.5,2843.1 889.5,2843.3 891.4,2843.5 893.4,2843.7 895.4,2843.8 897.3,2844.0 899.3,2844.1 901.3,2844.1 903.2,2844.2 905.2,2844.2 907.2,2844.2 909.1,2844.2 911.1,2844.1 913.1,2844.0 915.0,2843.9 917.0,2843.7 919.0,2843.5 920.9,2843.3 922.9,2843.1 924.9,2842.8 926.8,2842.5 928.8,2842.1 930.7,2841.7 932.7,2841.3 934.6,2840.8 936.6,2840.3 938.5,2839.7 940.5,2839.1 942.4,2838.5 944.3,2837.8 946.2,2837.1 948.2,2836.4 950.1,2835.5 952.0,2834.7 953.9,2833.8 955.8,2832.9 957.7,2831.9 959.6,2831.0 961.5,2830.1 963.4,2829.2 965.2,2828.3 967.1,2827.5 968.9,2826.7 970.7,2826.0 972.5,2825.4 974.4,2824.9 976.1,2824.5 977.9,2824.2 979.7,2824.0 981.4,2824.0 983.1,2824.2 984.8,2824.4 986.5,2824.9 988.2,2825.4 989.8,2826.1 991.5,2826.8 993.1,2827.7 994.7,2828.7 996.2,2829.8 997.8,2831.0 999.4,2832.2 1000.9,2833.5 1002.5,2834.8 1004.0,2836.2 1005.6,2837.6 1007.1,2838.9 1008.7,2840.3 1010.3,2841.7 1011.9,2843.0 1013.5,2844.3 1015.1,2845.5 1016.8,2846.6 1018.5,2847.7 1020.2,2848.8 1022.0,2849.7 1023.7,2850.7 1025.5,2851.6 1027.3,2852.4 1029.1,2853.2 1030.9,2854.0 1032.8,2854.7 1034.6,2855.4 1036.5,2856.1 1038.4,2856.7 1040.3,2857.3 1042.2,2857.9 1044.1,2858.5 1046.0,2859.0 1047.9,2859.5 1049.9,2860.0 1051.8,2860.5 1053.8,2861.0 1055.7,2861.4 1057.7,2861.8 1059.7,2862.3 1061.6,2862.6 1063.6,2863.0 1065.6,2863.4 1067.6,2863.7 1069.6,2864.0 1071.6,2864.4 1073.6,2864.7 1075.6,2865.0 1077.5,2865.3 1079.5,2865.5 1081.5,2865.8 1083.5,2866.1 1085.5,2866.3 1087.5,2866.6 1089.5,2866.8 1091.5,2867.0 1093.5,2867.3 1095.5,2867.5 1097.4,2867.7 1099.4,2867.9 1101.4,2868.1 1103.4,2868.3 1105.4,2868.5 1107.4,2868.7 1109.4,2868.9 1111.3,2869.1 1113.3,2869.3 1115.3,2869.4 1117.3,2869.6 1119.3,2869.8 1121.2,2870.0 1123.2,2870.1 1125.2,2870.3 1127.2,2870.5 1129.2,2870.6 1131.1,2870.8 1133.1,2871.0 1135.1,2871.1 1137.1,2871.3 1139.1,2871.5 1141.1,2871.6 1143.0,2871.8 1145.0,2872.0 1147.0,2872.1 1149.0,2872.3 1151.0,2872.5 1152.9,2872.6 1154.9,2872.8 1156.9,2873.0 1158.9,2873.2 1160.9,2873.3 1162.8,2873.5 1164.8,2873.7 1166.8,2873.9 1168.8,2874.1 1170.8,2874.2 1172.8,2874.4 1174.7,2874.6 1176.7,2874.8 1178.7,2875.0 1180.7,2875.2 1182.7,2875.3 1184.7,2875.5 1186.6,2875.7 1188.6,2875.9 1190.6,2876.1 1192.6,2876.3 1194.6,2876.5 1196.6,2876.7 1198.5,2876.9 1200.5,2877.0 1202.5,2877.2 1204.5,2877.4 1206.5,2877.6 1208.5,2877.8 1210.5,2878.0 1212.4,2878.2 1214.4,2878.4 1216.4,2878.6 1218.4,2878.8 1220.4,2878.9 1222.4,2879.1 1224.4,2879.3 1226.3,2879.5 1228.3,2879.7 1230.3,2879.9 1232.3,2880.1 1234.3,2880.3 1236.3,2880.5 1238.3,2880.6 1240.3,2880.8 1242.2,2881.0 1244.2,2881.2 1246.2,2881.4 1248.2,2881.6 1250.2,2881.7 1252.2,2881.9 1254.2,2882.1 1256.2,2882.3 1258.1,2882.5 1260.1,2882.6 1262.1,2882.8 1264.1,2883.0 1266.1,2883.2 1268.1,2883.3 1270.1,2883.5 1272.1,2883.7 1274.0,2883.8 1276.0,2884.0 1278.0,2884.2 1280.0,2884.3 1282.0,2884.5 1284.0,2884.6 1286.0,2884.8 1288.0,2885.0 1290.0,2885.1 1291.9,2885.3 1293.9,2885.4 1295.9,2885.6 1297.9,2885.7 1299.9,2885.9 1301.9,2886.0 1303.9,2886.1 1305.9,2886.3 1307.9,2886.4 1309.8,2886.6 1311.8,2886.7 1313.8,2886.8 1315.8,2887.0 1317.8,2887.1 1319.8,2887.2 1321.8,2887.3 1323.8,2887.4 1325.8,2887.6 1327.8,2887.7 1329.7,2887.8 1331.7,2887.9 1333.7,2888.0 1335.7,2888.1 1337.7,2888.2 1339.7,2888.3 1341.7,2888.4 1343.7,2888.5 1345.7,2888.6 1347.6,2888.7 1349.6,2888.7 1351.6,2888.8 1353.6,2888.9 1355.6,2889.0 1357.6,2889.0" fill="none" stroke="#C864DC" stroke-width="5" stroke-linejoin="round" stroke-linecap="butt" />
<polyline points="754.9,3077.7 756.7,3077.3 758.4,3076.9 760.2,3076.4 762.0,3075.9 763.8,3075.4 765.6,3074.8 767.4,3074.2 769.2,3073.6 771.0,3072.9 772.8,3072.2 774.7,3071.5 776.5,3070.8 778.3,3070.0 780.2,3069.2 782.0,3068.4 783.9,3067.6 785.8,3066.7 787.6,3065.9 789.5,3065.0 791.4,3064.2 793.3,3063.3 795.2,3062.4 797.1,3061.5 799.0,3060.6 800.9,3059.8 802.8,3058.9 804.7,3058.0 806.6,3057.1 808.6,3056.3 810.5,3055.4 812.4,3054.6 814.4,3053.8 816.3,3053.0 818.2,3052.2 820.2,3051.4 822.1,3050.6 824.1,3049.9 826.0,3049.2 828.0,3048.6 830.0,3047.9 831.9,3047.3 833.9,3046.8 835.8,3046.2 837.8,3045.7 839.8,3045.3 841.7,3044.8 843.7,3044.5 845.7,3044.1 847.7,3043.9 849.6,3043.6 851.6,3043.5 853.6,3043.3 855.6,3043.3 857.5,3043.2 859.5,3043.3 861.5,3043.4 863.5,3043.6 865.4,3043.8 867.4,3044.1 869.3,3044.5 871.3,3044.9 873.2,3045.5 875.1,3046.1 877.0,3046.8 878.8,3047.5 880.7,3048.4 882.4,3049.3 884.2,3050.4 885.9,3051.5 887.6,3052.7 889.3,3054.0 890.9,3055.3 892.5,3056.7 894.1,3058.0 895.7,3059.4 897.3,3060.7 898.8,3062.0 900.3,3063.3 901.9,3064.4 903.4,3065.6 904.9,3066.6 906.4,3067.5 907.9,3068.2 909.5,3068.9 911.0,3069.4 912.5,3069.7 914.1,3069.8 915.7,3069.7 917.3,3069.5 918.9,3069.1 920.5,3068.6 922.1,3068.0 923.7,3067.2 925.4,3066.3 927.0,3065.4 928.7,3064.3 930.4,3063.2 932.1,3062.0 933.8,3060.7 935.5,3059.5 937.2,3058.1 938.9,3056.8 940.7,3055.5 942.4,3054.2 944.2,3052.8 945.9,3051.6 947.7,3050.3 949.5,3049.1 951.2,3048.0 953.0,3046.9 954.8,3045.8 956.6,3044.8 958.4,3043.8 960.3,3042.9 962.1,3041.9 963.9,3041.1 965.7,3040.2 967.6,3039.4 969.4,3038.6 971.3,3037.8 973.1,3037.1 975.0,3036.4 976.8,3035.7 978.7,3035.0 980.6,3034.3 982.5,3033.7 984.3,3033.0 986.2,3032.4 988.1,3031.8 990.0,3031.2 991.9,3030.6 993.8,3030.0 995.7,3029.4 997.6,3028.9 999.6,3028.3 1001.5,3027.8 1003.4,3027.2 1005.3,3026.7 1007.3,3026.2 1009.2,3025.7 1011.1,3025.2 1013.0,3024.7 1015.0,3024.2 1016.9,3023.8 1018.9,3023.3 1020.8,3022.9 1022.7,3022.4 1024.7,3022.0 1026.6,3021.5 1028.6,3021.1 1030.5,3020.7 1032.5,3020.2 1034.4,3019.8 1036.4,3019.4 1038.3,3019.0 1040.3,3018.6 1042.3,3018.2 1044.2,3017.8 1046.2,3017.4 1048.1,3017.0 1050.1,3016.6 1052.0,3016.2 1054.0,3015.8 1055.9,3015.4 1057.9,3015.1 1059.9,3014.7 1061.8,3014.3 1063.8,3014.0 1065.7,3013.6 1067.7,3013.2 1069.7,3012.9 1071.6,3012.5 1073.6,3012.2 1075.6,3011.9 1077.5,3011.5 1079.5,3011.2 1081.5,3010.9 1083.4,3010.5 1085.4,3010.2 1087.4,3009.9 1089.3,3009.6 1091.3,3009.3 1093.3,3009.0 1095.2,3008.6 1097.2,3008.3 1099.2,3008.0 1101.1,3007.7 1103.1,3007.5 1105.1,3007.2 1107.1,3006.9 1109.0,3006.6 1111.0,3006.3 1113.0,3006.0 1114.9,3005.8 1116.9,3005.5 1118.9,3005.2 1120.9,3005.0 1122.8,3004.7 1124.8,3004.4 1126.8,3004.2 1128.8,3003.9 1130.7,3003.7 1132.7,3003.4 1134.7,3003.2 1136.7,3003.0 1138.7,3002.7 1140.6,3002.5 1142.6,3002.3 1144.6,3002.0 1146.6,3001.8 1148.6,3001.6 1150.5,3001.4 1152.5,3001.2 1154.5,3000.9 1156.5,3000.7 1158.5,3000.5 1160.5,3000.3 1162.4,3000.1 1164.4,2999.9 1166.4,2999.7 1168.4,2999.5 1170.4,2999.3 1172.4,2999.2 1174.3,2999.0 1176.3,2998.8 1178.3,2998.6 1180.3,2998.4 1182.3,2998.3 1184.3,2998.1 1186.3,2997.9 1188.2,2997.7 1190.2,2997.6 1192.2,2997.4 1194.2,2997.3 1196.2,2997.1 1198.2,2996.9 1200.2,2996.8 1202.2,2996.6 1204.2,2996.5 1206.1,2996.3 1208.1,2996.2 1210.1,2996.1 1212.1,2995.9 1214.1,2995.8 1216.1,2995.6 1218.1,2995.5 1220.1,2995.4 1222.1,2995.3 1224.1,2995.1 1226.0,2995.0 1228.0,2994.9 1230.0,2994.8 1232.0,2994.6 1234.0,2994.5 1236.0,2994.4 1238.0,2994.3 1240.0,2994.2 1242.0,2994.1 1244.0,2994.0 1246.0,2993.9 1248.0,2993.8 1250.0,2993.7 1251.9,2993.6 1253.9,2993.5 1255.9,2993.4 1257.9,2993.3 1259.9,2993.2 1261.9,2993.1 1263.9,2993.0 1265.9,2993.0 1267.9,2992.9 1269.9,2992.8 1271.9,2992.7 1273.9,2992.6 1275.9,2992.6 1277.9,2992.5 1279.9,2992.4 1281.8,2992.3 1283.8,2992.3 1285.8,2992.2 1287.8,2992.1 1289.8,2992.1 1291.8,2992.0 1293.8,2991.9 1295.8,2991.9 1297.8,2991.8 1299.8,2991.8 1301.8,2991.7 1303.8,2991.7 1305.8,2991.6 1307.8,2991.5 1309.8,2991.5 1311.8,2991.4 1313.8,2991.4 1315.7,2991.4 1317.7,2991.3 1319.7,2991.3 1321.7,2991.2 1323.7,2991.2 1325.7,2991.1 1327.7,2991.1 1329.7,2991.1 1331.7,2991.0 1333.7,2991.0 1335.7,2991.0 1337.7,2990.9 1339.7,2990.9 1341.7,2990.9 1343.7,2990.8 1345.6,2990.8 1347.6,2990.8 1349.6,2990.7 1351.6,2990.7 1353.6,2990.7 1355.6,2990.7 1357.6,2990.6" fill="none" stroke="#C864DC" stroke-width="5" stroke-linejoin="round" stroke-linecap="butt" />
<polyline points="755.7,2680.8 757.4,2681.6 759.1,2682.4 760.9,2683.3 762.6,2684.2 764.3,2685.1 766.0,2686.0 767.7,2686.9 769.4,2687.8 771.1,2688.8 772.8,2689.7 774.5,2690.7 776.2,2691.7 777.9,2692.7 779.6,2693.7 781.4,2694.7 783.1,2695.8 784.8,2696.8 786.5,2697.9 788.2,2698.9 789.9,2700.0 791.6,2701.1 793.3,2702.2 795.0,2703.2 796.7,2704.3 798.4,2705.4 800.1,2706.5 801.8,2707.6 803.5,2708.7 805.2,2709.8 806.9,2710.9 808.6,2712.0 810.3,2713.1 812.0,2714.2 813.8,2715.3 815.5,2716.4 817.2,2717.5 818.9,2718.6 820.7,2719.7 822.4,2720.8 824.1,2721.8 825.8,2722.9 827.6,2724.0 829.3,2725.0 831.1,2726.1 832.8,2727.1 834.6,2728.1 836.3,2729.1 838.1,2730.1 839.8,2731.1 841.6,2732.1 843.4,2733.0 845.1,2734.0 846.9,2734.9 848.7,2735.8 850.5,2736.7 852.3,2737.6 854.1,2738.5 855.9,2739.3 857.7,2740.1 859.5,2741.0 861.3,2741.7 863.1,2742.5 865.0,2743.3 866.8,2744.0 868.6,2744.7 870.5,2745.3 872.3,2746.0 874.2,2746.6 876.1,2747.2 877.9,2747.8 879.8,2748.3 881.7,2748.9 883.6,2749.4 885.5,2749.8 887.4,2750.2 889.3,2750.6 891.2,2751.0 893.2,2751.4 895.1,2751.7 897.1,2751.9 899.0,2752.2 901.0,2752.4 902.9,2752.5 904.9,2752.7 906.9,2752.8 908.9,2752.8 910.9,2752.8 912.9,2752.8 914.9,2752.7 916.9,2752.6 918.8,2752.4 920.8,2752.2 922.8,2751.9 924.7,2751.5 926.7,2751.1 928.6,2750.6 930.5,2750.0 932.3,2749.4 934.2,2748.7 936.0,2747.9 937.8,2747.0 939.5,2746.0 941.2,2745.0 942.9,2743.9 944.5,2742.6 946.1,2741.3 947.7,2739.9 949.2,2738.4 950.6,2736.8 952.1,2735.2 953.5,2733.5 954.9,2731.8 956.4,2730.1 957.8,2728.4 959.2,2726.7 960.7,2725.1 962.1,2723.4 963.6,2721.9 965.2,2720.4 966.7,2718.9 968.3,2717.6 969.9,2716.4 971.5,2715.3 973.1,2714.4 974.7,2713.7 976.3,2713.1 977.8,2712.7 979.4,2712.5 980.9,2712.6 982.4,2712.9 983.9,2713.4 985.3,2714.2 986.7,2715.2 988.0,2716.3 989.4,2717.6 990.7,2719.0 991.9,2720.4 993.2,2722.0 994.4,2723.6 995.6,2725.2 996.8,2726.9 998.0,2728.6 999.1,2730.3 1000.2,2732.0 1001.3,2733.7 1002.4,2735.5 1003.5,2737.2 1004.6,2739.0 1005.7,2740.8 1006.8,2742.6 1007.9,2744.4 1009.0,2746.1 1010.1,2747.9 1011.2,2749.7 1012.3,2751.4 1013.4,2753.1 1014.5,2754.9 1015.6,2756.6 1016.8,2758.2 1018.0,2759.9 1019.2,2761.5 1020.4,2763.1 1021.7,2764.6 1022.9,2766.2 1024.2,2767.6 1025.6,2769.1 1026.9,2770.5 1028.4,2771.8 1029.8,2773.1 1031.3,2774.3 1032.8,2775.5 1034.4,2776.6 1036.0,2777.7 1037.7,2778.7 1039.4,2779.6 1041.1,2780.5 1042.9,2781.4 1044.7,2782.2 1046.5,2783.0 1048.4,2783.7 1050.2,2784.5 1052.1,2785.2 1054.0,2785.9 1055.9,2786.6 1057.9,2787.3 1059.8,2788.0 1061.7,2788.7 1063.6,2789.4 1065.5,2790.2 1067.4,2790.9 1069.3,2791.7 1071.2,2792.6 1073.0,2793.4 1074.9,2794.2 1076.7,2795.1 1078.6,2795.9 1080.4,2796.7 1082.3,2797.4 1084.2,2798.1 1086.0,2798.8 1087.9,2799.4 1089.8,2800.0 1091.7,2800.6 1093.6,2801.1 1095.6,2801.6 1097.5,2802.1 1099.4,2802.5 1101.4,2802.9 1103.3,2803.3 1105.2,2803.7 1107.2,2804.1 1109.2,2804.4 1111.1,2804.8 1113.1,2805.1 1115.0,2805.4 1117.0,2805.8 1119.0,2806.1 1120.9,2806.4 1122.9,2806.7 1124.9,2807.0 1126.9,2807.3 1128.8,2807.6 1130.8,2808.0 1132.8,2808.3 1134.7,2808.6 1136.7,2808.9 1138.7,2809.3 1140.6,2809.6 1142.6,2809.9 1144.6,2810.3 1146.5,2810.6 1148.5,2810.9 1150.5,2811.3 1152.4,2811.6 1154.4,2812.0 1156.4,2812.3 1158.3,2812.7 1160.3,2813.0 1162.3,2813.4 1164.2,2813.7 1166.2,2814.1 1168.1,2814.5 1170.1,2814.8 1172.1,2815.2 1174.0,2815.5 1176.0,2815.9 1178.0,2816.2 1179.9,2816.6 1181.9,2817.0 1183.9,2817.3 1185.8,2817.7 1187.8,2818.1 1189.8,2818.4 1191.7,2818.8 1193.7,2819.2 1195.7,2819.5 1197.6,2819.9 1199.6,2820.3 1201.6,2820.6 1203.5,2821.0 1205.5,2821.4 1207.5,2821.7 1209.4,2822.1 1211.4,2822.5 1213.3,2822.8 1215.3,2823.2 1217.3,2823.6 1219.2,2823.9 1221.2,2824.3 1223.2,2824.6 1225.1,2825.0 1227.1,2825.4 1229.1,2825.7 1231.0,2826.1 1233.0,2826.4 1235.0,2826.8 1236.9,2827.1 1238.9,2827.5 1240.9,2827.8 1242.8,2828.2 1244.8,2828.5 1246.8,2828.9 1248.8,2829.2 1250.7,2829.6 1252.7,2829.9 1254.7,2830.3 1256.6,2830.6 1258.6,2830.9 1260.6,2831.3 1262.5,2831.6 1264.5,2831.9 1266.5,2832.2 1268.5,2832.6 1270.4,2832.9 1272.4,2833.2 1274.4,2833.5 1276.3,2833.8 1278.3,2834.1 1280.3,2834.4 1282.3,2834.7 1284.2,2835.0 1286.2,2835.3 1288.2,2835.6 1290.2,2835.9 1292.1,2836.2 1294.1,2836.5 1296.1,2836.8 1298.1,2837.1 1300.0,2837.3 1302.0,2837.6 1304.0,2837.9 1306.0,2838.1 1307.9,2838.4 1309.9,2838.6 1311.9,2838.9 1313.9,2839.1 1315.9,2839.4 1317.8,2839.6 1319.8,2839.9 1321.8,2840.1 1323.8,2840.3 1325.8,2840.5 1327.7,2840.7 1329.7,2841.0 1331.7,2841.2 1333.7,2841.4 1335.7,2841.6 1337.7,2841.7 1339.7,2841.9 1341.6,2842.1 1343.6,2842.3 1345.6,2842.5 1347.6,2842.6 1349.6,2842.8 1351.6,2842.9 1353.6,2843.1 1355.6,2843.2 1357.6,2843.4" fill="none" stroke="#D6A000" stroke-width="5" stroke-linejoin="round" stroke-linecap="butt" />
<polyline points="756.9,3223.0 758.2,3221.6 759.6,3220.1 761.0,3218.7 762.4,3217.2 763.8,3215.8 765.2,3214.4 766.5,3212.9 767.9,3211.5 769.3,3210.1 770.7,3208.7 772.1,3207.3 773.5,3205.9 774.9,3204.5 776.4,3203.1 777.8,3201.7 779.2,3200.4 780.6,3199.0 782.1,3197.7 783.5,3196.3 785.0,3195.0 786.5,3193.7 787.9,3192.3 789.4,3191.0 790.9,3189.7 792.4,3188.5 793.9,3187.2 795.5,3185.9 797.0,3184.7 798.5,3183.4 800.1,3182.2 801.7,3181.0 803.3,3179.7 804.8,3178.5 806.5,3177.4 808.1,3176.2 809.7,3175.0 811.4,3173.9 813.1,3172.7 814.7,3171.6 816.4,3170.5 818.2,3169.5 819.9,3168.4 821.6,3167.4 823.4,3166.4 825.2,3165.4 827.0,3164.5 828.8,3163.6 830.6,3162.7 832.4,3161.9 834.2,3161.1 836.1,3160.3 838.0,3159.6 839.9,3158.9 841.8,3158.3 843.7,3157.8 845.6,3157.2 847.6,3156.8 849.5,3156.4 851.5,3156.0 853.5,3155.7 855.5,3155.5 857.5,3155.3 859.5,3155.2 861.4,3155.2 863.4,3155.2 865.4,3155.3 867.3,3155.5 869.3,3155.8 871.2,3156.1 873.0,3156.6 874.9,3157.1 876.7,3157.7 878.4,3158.4 880.1,3159.2 881.7,3160.2 883.3,3161.2 884.8,3162.3 886.3,3163.5 887.7,3164.9 889.0,3166.3 890.2,3167.9 891.3,3169.6 892.4,3171.4 893.4,3173.3 894.4,3175.2 895.2,3177.2 896.1,3179.3 896.9,3181.4 897.7,3183.5 898.5,3185.6 899.3,3187.7 900.1,3189.8 900.9,3191.8 901.7,3193.8 902.6,3195.7 903.5,3197.5 904.4,3199.3 905.4,3200.9 906.4,3202.4 907.6,3203.7 908.8,3204.9 910.1,3206.0 911.5,3206.8 913.0,3207.4 914.6,3207.9 916.3,3208.0 917.9,3207.9 919.5,3207.5 921.0,3206.8 922.5,3205.7 923.9,3204.5 925.2,3203.0 926.4,3201.4 927.5,3199.7 928.5,3197.9 929.5,3196.0 930.4,3194.2 931.3,3192.3 932.1,3190.4 932.9,3188.4 933.7,3186.5 934.5,3184.6 935.4,3182.7 936.3,3180.9 937.2,3179.1 938.2,3177.3 939.2,3175.6 940.3,3173.9 941.4,3172.2 942.6,3170.6 943.8,3169.0 945.0,3167.4 946.2,3165.8 947.5,3164.3 948.8,3162.8 950.2,3161.3 951.6,3159.9 953.0,3158.5 954.4,3157.1 955.8,3155.7 957.3,3154.3 958.8,3153.0 960.3,3151.7 961.9,3150.4 963.4,3149.1 965.0,3147.8 966.5,3146.6 968.1,3145.4 969.7,3144.1 971.3,3142.9 973.0,3141.7 974.6,3140.5 976.2,3139.3 977.8,3138.2 979.5,3137.0 981.1,3135.9 982.8,3134.7 984.4,3133.6 986.1,3132.5 987.8,3131.4 989.4,3130.3 991.1,3129.2 992.8,3128.1 994.4,3127.0 996.1,3125.9 997.8,3124.9 999.5,3123.8 1001.2,3122.8 1002.9,3121.8 1004.6,3120.8 1006.4,3119.8 1008.1,3118.8 1009.8,3117.8 1011.5,3116.8 1013.2,3115.8 1015.0,3114.8 1016.7,3113.9 1018.5,3112.9 1020.2,3112.0 1022.0,3111.1 1023.7,3110.1 1025.5,3109.2 1027.2,3108.3 1029.0,3107.4 1030.8,3106.5 1032.6,3105.7 1034.3,3104.8 1036.1,3103.9 1037.9,3103.1 1039.7,3102.2 1041.5,3101.4 1043.3,3100.6 1045.1,3099.7 1046.9,3098.9 1048.7,3098.1 1050.5,3097.3 1052.4,3096.5 1054.2,3095.8 1056.0,3095.0 1057.8,3094.2 1059.7,3093.5 1061.5,3092.7 1063.3,3092.0 1065.2,3091.3 1067.0,3090.5 1068.9,3089.8 1070.7,3089.1 1072.6,3088.4 1074.4,3087.7 1076.3,3087.0 1078.1,3086.3 1080.0,3085.7 1081.9,3085.0 1083.8,3084.3 1085.6,3083.7 1087.5,3083.0 1089.4,3082.4 1091.3,3081.8 1093.2,3081.2 1095.0,3080.5 1096.9,3079.9 1098.8,3079.3 1100.7,3078.7 1102.6,3078.2 1104.5,3077.6 1106.4,3077.0 1108.3,3076.4 1110.3,3075.9 1112.2,3075.3 1114.1,3074.8 1116.0,3074.2 1117.9,3073.7 1119.8,3073.2 1121.8,3072.7 1123.7,3072.2 1125.6,3071.6 1127.6,3071.1 1129.5,3070.7 1131.4,3070.2 1133.4,3069.7 1135.3,3069.2 1137.2,3068.7 1139.2,3068.3 1141.1,3067.8 1143.1,3067.4 1145.0,3066.9 1147.0,3066.5 1148.9,3066.1 1150.9,3065.6 1152.8,3065.2 1154.8,3064.8 1156.8,3064.4 1158.7,3064.0 1160.7,3063.6 1162.7,3063.2 1164.6,3062.8 1166.6,3062.4 1168.6,3062.1 1170.5,3061.7 1172.5,3061.3 1174.5,3061.0 1176.5,3060.6 1178.4,3060.3 1180.4,3059.9 1182.4,3059.6 1184.4,3059.3 1186.4,3058.9 1188.3,3058.6 1190.3,3058.3 1192.3,3058.0 1194.3,3057.7 1196.3,3057.4 1198.3,3057.1 1200.2,3056.8 1202.2,3056.5 1204.2,3056.2 1206.2,3056.0 1208.2,3055.7 1210.2,3055.4 1212.2,3055.2 1214.2,3054.9 1216.2,3054.7 1218.2,3054.4 1220.2,3054.2 1222.2,3053.9 1224.2,3053.7 1226.2,3053.5 1228.2,3053.2 1230.2,3053.0 1232.2,3052.8 1234.2,3052.6 1236.2,3052.4 1238.2,3052.2 1240.2,3052.0 1242.2,3051.8 1244.2,3051.6 1246.2,3051.4 1248.2,3051.2 1250.2,3051.1 1252.2,3050.9 1254.2,3050.7 1256.2,3050.5 1258.2,3050.4 1260.2,3050.2 1262.2,3050.1 1264.2,3049.9 1266.2,3049.8 1268.2,3049.6 1270.2,3049.5 1272.2,3049.3 1274.2,3049.2 1276.2,3049.1 1278.2,3048.9 1280.2,3048.8 1282.2,3048.7 1284.2,3048.6 1286.2,3048.5 1288.2,3048.4 1290.2,3048.2 1292.2,3048.1 1294.2,3048.0 1296.1,3047.9 1298.1,3047.8 1300.1,3047.7 1302.1,3047.7 1304.1,3047.6 1306.1,3047.5 1308.1,3047.4 1310.1,3047.3 1312.1,3047.2 1314.1,3047.2 1316.0,3047.1 1318.0,3047.0 1320.0,3047.0 1322.0,3046.9 1324.0,3046.8 1325.9,3046.8 1327.9,3046.7 1329.9,3046.7 1331.9,3046.6 1333.8,3046.6 1335.8,3046.5 1337.8,3046.5 1339.8,3046.4 1341.7,3046.4 1343.7,3046.4 1345.7,3046.3 1347.6,3046.3 1349.6,3046.3 1351.6,3046.2 1353.5,3046.2 1355.5,3046.2 1357.4,3046.2" fill="none" stroke="#D6A000" stroke-width="5" stroke-linejoin="round" stroke-linecap="butt" />
<polyline points="758.5,2424.2 759.6,2425.8 760.7,2427.4 761.8,2429.1 762.9,2430.7 764.0,2432.3 765.1,2433.9 766.2,2435.5 767.3,2437.1 768.4,2438.8 769.5,2440.4 770.6,2442.0 771.7,2443.7 772.9,2445.3 774.0,2446.9 775.1,2448.6 776.2,2450.2 777.3,2451.9 778.5,2453.5 779.6,2455.1 780.7,2456.8 781.9,2458.4 783.0,2460.1 784.2,2461.7 785.3,2463.3 786.5,2465.0 787.6,2466.6 788.8,2468.2 790.0,2469.9 791.1,2471.5 792.3,2473.1 793.5,2474.8 794.7,2476.4 795.9,2478.0 797.1,2479.6 798.3,2481.2 799.5,2482.8 800.7,2484.5 801.9,2486.1 803.1,2487.7 804.4,2489.3 805.6,2490.8 806.8,2492.4 808.1,2494.0 809.3,2495.6 810.6,2497.2 811.8,2498.7 813.1,2500.3 814.4,2501.8 815.7,2503.4 817.0,2504.9 818.3,2506.5 819.6,2508.0 820.9,2509.5 822.2,2511.0 823.5,2512.5 824.9,2514.0 826.2,2515.5 827.5,2517.0 828.9,2518.5 830.3,2519.9 831.6,2521.4 833.0,2522.8 834.4,2524.3 835.8,2525.7 837.2,2527.1 838.6,2528.5 840.0,2529.9 841.5,2531.3 842.9,2532.7 844.4,2534.0 845.8,2535.4 847.3,2536.7 848.8,2538.1 850.3,2539.4 851.8,2540.7 853.3,2542.0 854.8,2543.3 856.3,2544.5 857.8,2545.8 859.4,2547.0 860.9,2548.3 862.5,2549.5 864.1,2550.7 865.7,2551.9 867.3,2553.0 868.9,2554.2 870.5,2555.3 872.1,2556.5 873.8,2557.6 875.4,2558.7 877.1,2559.8 878.8,2560.8 880.5,2561.9 882.2,2562.9 883.9,2563.9 885.6,2564.9 887.3,2565.9 889.1,2566.9 890.8,2567.8 892.6,2568.7 894.4,2569.5 896.2,2570.2 898.0,2570.9 899.8,2571.5 901.7,2572.0 903.5,2572.5 905.4,2572.8 907.3,2573.0 909.2,2573.1 911.1,2573.0 913.0,2572.8 915.0,2572.5 916.9,2572.1 918.8,2571.6 920.7,2570.9 922.6,2570.2 924.5,2569.4 926.3,2568.5 928.2,2567.5 929.9,2566.4 931.7,2565.2 933.3,2564.0 935.0,2562.7 936.5,2561.4 938.0,2560.0 939.5,2558.6 940.8,2557.1 942.1,2555.6 943.3,2554.0 944.5,2552.4 945.6,2550.8 946.6,2549.1 947.6,2547.4 948.6,2545.7 949.5,2544.0 950.4,2542.2 951.2,2540.4 952.0,2538.6 952.8,2536.8 953.5,2535.0 954.2,2533.2 954.9,2531.3 955.6,2529.4 956.3,2527.6 957.0,2525.7 957.6,2523.8 958.3,2522.0 959.0,2520.1 959.7,2518.2 960.4,2516.4 961.1,2514.5 961.9,2512.6 962.7,2510.8 963.6,2508.9 964.5,2507.1 965.5,2505.2 966.6,2503.4 967.7,2501.5 968.9,2499.7 970.2,2497.8 971.6,2496.0 973.1,2494.3 974.6,2492.6 976.2,2491.2 977.7,2490.0 979.2,2489.1 980.6,2488.6 981.9,2488.4 983.2,2488.8 984.3,2489.5 985.4,2490.7 986.3,2492.2 987.2,2493.9 988.1,2495.9 988.9,2498.0 989.6,2500.2 990.4,2502.5 991.1,2504.8 991.9,2507.0 992.6,2509.1 993.4,2511.2 994.1,2513.3 994.9,2515.2 995.6,2517.2 996.4,2519.1 997.1,2520.9 997.8,2522.7 998.6,2524.6 999.3,2526.3 1000.0,2528.1 1000.7,2529.9 1001.3,2531.7 1002.0,2533.5 1002.6,2535.3 1003.2,2537.1 1003.8,2538.9 1004.4,2540.8 1005.0,2542.7 1005.5,2544.6 1006.0,2546.5 1006.6,2548.4 1007.1,2550.3 1007.6,2552.3 1008.1,2554.2 1008.6,2556.2 1009.1,2558.1 1009.6,2560.1 1010.1,2562.1 1010.6,2564.0 1011.1,2566.0 1011.6,2568.0 1012.1,2569.9 1012.6,2571.9 1013.2,2573.9 1013.7,2575.8 1014.3,2577.8 1014.9,2579.7 1015.5,2581.7 1016.1,2583.6 1016.8,2585.5 1017.4,2587.4 1018.1,2589.3 1018.8,2591.2 1019.6,2593.1 1020.4,2594.9 1021.2,2596.7 1022.1,2598.5 1022.9,2600.3 1023.8,2602.1 1024.8,2603.9 1025.7,2605.6 1026.7,2607.3 1027.8,2609.0 1028.8,2610.7 1029.9,2612.4 1031.0,2614.0 1032.1,2615.7 1033.3,2617.3 1034.5,2618.9 1035.7,2620.5 1036.9,2622.0 1038.1,2623.6 1039.4,2625.1 1040.7,2626.6 1042.0,2628.1 1043.4,2629.6 1044.7,2631.0 1046.1,2632.5 1047.5,2633.9 1048.9,2635.3 1050.4,2636.6 1051.8,2638.0 1053.3,2639.4 1054.8,2640.7 1056.3,2642.0 1057.9,2643.3 1059.4,2644.5 1061.0,2645.8 1062.5,2647.0 1064.1,2648.2 1065.7,2649.4 1067.4,2650.6 1069.0,2651.8 1070.6,2652.9 1072.3,2654.0 1074.0,2655.1 1075.6,2656.2 1077.3,2657.3 1079.0,2658.3 1080.8,2659.3 1082.5,2660.3 1084.2,2661.3 1085.9,2662.3 1087.7,2663.2 1089.5,2664.2 1091.2,2665.1 1093.0,2666.0 1094.8,2666.8 1096.6,2667.7 1098.4,2668.5 1100.2,2669.4 1102.0,2670.2 1103.8,2671.0 1105.6,2671.8 1107.4,2672.5 1109.3,2673.3 1111.1,2674.0 1113.0,2674.8 1114.8,2675.5 1116.7,2676.2 1118.5,2676.9 1120.4,2677.6 1122.3,2678.2 1124.2,2678.9 1126.0,2679.5 1127.9,2680.2 1129.8,2680.8 1131.7,2681.4 1133.6,2682.1 1135.5,2682.7 1137.4,2683.3 1139.3,2683.9 1141.2,2684.5 1143.2,2685.0 1145.1,2685.6 1147.0,2686.2 1148.9,2686.8 1150.8,2687.3 1152.8,2687.9 1154.7,2688.4 1156.6,2689.0 1158.5,2689.5 1160.5,2690.1 1162.4,2690.6 1164.3,2691.2 1166.3,2691.7 1168.2,2692.3 1170.1,2692.8 1172.1,2693.4 1174.0,2693.9 1175.9,2694.5 1177.9,2695.0 1179.8,2695.6 1181.7,2696.1 1183.7,2696.7 1185.6,2697.2 1187.5,2697.8 1189.5,2698.4 1191.4,2698.9 1193.3,2699.5 1195.2,2700.1 1197.1,2700.7 1199.1,2701.3 1201.0,2701.9 1202.9,2702.5 1204.8,2703.1 1206.7,2703.7 1208.6,2704.4 1210.5,2705.0 1212.4,2705.6 1214.3,2706.3 1216.1,2707.0 1218.0,2707.7 1219.9,2708.3 1221.8,2709.1 1223.6,2709.8 1225.5,2710.5 1227.3,2711.2 1229.2,2712.0 1231.0,2712.8 1232.9,2713.5 1234.7,2714.3 1236.5,2715.1 1238.3,2716.0 1240.1,2716.8 1241.9,2717.7 1243.7,2718.5 1245.5,2719.4 1247.3,2720.3 1249.1,2721.2 1250.9,2722.2 1252.6,2723.1 1254.4,2724.0 1256.2,2725.0 1257.9,2725.9 1259.7,2726.9 1261.5,2727.8 1263.2,2728.8 1265.0,2729.7 1266.7,2730.7 1268.5,2731.6 1270.3,2732.5 1272.0,2733.4 1273.8,2734.3 1275.6,2735.2 1277.4,2736.1 1279.2,2736.9 1281.0,2737.7 1282.8,2738.5 1284.6,2739.3 1286.5,2740.1 1288.3,2740.8 1290.1,2741.5 1292.0,2742.2 1293.9,2742.9 1295.8,2743.5 1297.7,2744.0 1299.6,2744.6 1301.5,2745.1 1303.5,2745.6 1305.4,2746.0 1307.4,2746.4 1309.4,2746.7 1311.4,2747.0 1313.4,2747.3 1315.4,2747.5 1317.5,2747.7 1319.5,2747.9 1321.6,2748.1 1323.6,2748.2 1325.7,2748.4 1327.7,2748.5 1329.8,2748.6 1331.8,2748.7 1333.9,2748.8 1335.9,2748.9 1338.0,2749.1 1340.0,2749.2 1342.0,2749.3 1344.0,2749.5 1346.0,2749.7 1348.0,2749.9 1349.9,2750.1 1351.9,2750.3 1353.8,2750.6 1355.7,2750.9 1357.5,2751.3" fill="none" stroke="#00C4CC" stroke-width="5" stroke-linejoin="round" stroke-linecap="butt" />
<polyline points="756.5,3511.4 757.5,3509.5 758.5,3507.5 759.4,3505.6 760.4,3503.8 761.3,3501.9 762.3,3500.0 763.2,3498.1 764.1,3496.3 765.0,3494.4 765.9,3492.5 766.8,3490.7 767.6,3488.9 768.5,3487.0 769.4,3485.2 770.2,3483.4 771.1,3481.6 771.9,3479.8 772.8,3478.0 773.6,3476.2 774.5,3474.4 775.3,3472.6 776.2,3470.9 777.0,3469.1 777.9,3467.3 778.7,3465.6 779.6,3463.8 780.4,3462.1 781.3,3460.4 782.2,3458.6 783.0,3456.9 783.9,3455.2 784.8,3453.5 785.7,3451.8 786.6,3450.1 787.5,3448.4 788.4,3446.7 789.3,3445.0 790.2,3443.3 791.2,3441.7 792.1,3440.0 793.1,3438.3 794.1,3436.7 795.1,3435.0 796.1,3433.4 797.1,3431.7 798.1,3430.1 799.2,3428.4 800.3,3426.8 801.3,3425.2 802.5,3423.6 803.6,3421.9 804.7,3420.3 805.9,3418.7 807.1,3417.1 808.3,3415.5 809.5,3413.9 810.8,3412.3 812.0,3410.7 813.3,3409.1 814.7,3407.6 816.0,3406.0 817.4,3404.4 818.8,3402.8 820.2,3401.3 821.7,3399.7 823.2,3398.1 824.7,3396.6 826.2,3395.0 827.8,3393.5 829.4,3391.9 831.0,3390.4 832.7,3389.0 834.4,3387.5 836.0,3386.1 837.7,3384.7 839.5,3383.4 841.2,3382.2 842.9,3381.0 844.7,3379.9 846.4,3378.9 848.2,3378.0 849.9,3377.1 851.7,3376.4 853.4,3375.8 855.1,3375.2 856.9,3374.8 858.6,3374.6 860.3,3374.4 862.0,3374.4 863.7,3374.6 865.4,3374.9 867.0,3375.3 868.6,3375.9 870.2,3376.7 871.8,3377.6 873.3,3378.6 874.8,3379.8 876.3,3381.1 877.7,3382.4 879.1,3383.9 880.5,3385.4 881.8,3387.0 883.0,3388.7 884.2,3390.4 885.4,3392.2 886.5,3394.0 887.5,3395.8 888.5,3397.7 889.4,3399.5 890.2,3401.3 891.0,3403.2 891.8,3405.0 892.5,3406.9 893.1,3408.8 893.7,3410.6 894.3,3412.5 894.8,3414.4 895.3,3416.2 895.7,3418.1 896.1,3420.0 896.5,3421.9 896.9,3423.8 897.2,3425.8 897.5,3427.7 897.8,3429.6 898.1,3431.6 898.4,3433.6 898.7,3435.5 899.0,3437.5 899.3,3439.5 899.6,3441.5 899.9,3443.6 900.2,3445.6 900.5,3447.7 900.8,3449.8 901.2,3451.8 901.5,3454.0 901.9,3456.1 902.4,3458.2 902.8,3460.4 903.3,3462.5 903.8,3464.7 904.5,3466.7 905.1,3468.8 905.9,3470.7 906.7,3472.4 907.6,3474.1 908.6,3475.6 909.7,3476.8 911.0,3477.9 912.3,3478.7 913.8,3479.3 915.4,3479.5 917.1,3479.5 918.7,3479.2 920.2,3478.5 921.5,3477.6 922.7,3476.3 923.7,3474.8 924.6,3473.1 925.4,3471.3 926.2,3469.3 926.9,3467.3 927.5,3465.2 928.1,3463.1 928.7,3461.1 929.3,3459.0 929.9,3457.0 930.4,3454.9 930.9,3452.9 931.4,3450.8 931.9,3448.8 932.4,3446.8 932.8,3444.7 933.3,3442.7 933.8,3440.7 934.2,3438.7 934.7,3436.7 935.1,3434.7 935.6,3432.7 936.0,3430.7 936.5,3428.7 936.9,3426.7 937.4,3424.7 937.9,3422.8 938.4,3420.8 939.0,3418.9 939.5,3416.9 940.0,3415.0 940.6,3413.1 941.2,3411.1 941.8,3409.2 942.4,3407.3 943.0,3405.4 943.7,3403.5 944.3,3401.6 945.0,3399.8 945.7,3397.9 946.4,3396.0 947.1,3394.2 947.8,3392.3 948.6,3390.5 949.3,3388.7 950.1,3386.8 950.9,3385.0 951.7,3383.2 952.5,3381.4 953.3,3379.6 954.1,3377.8 955.0,3376.1 955.9,3374.3 956.7,3372.5 957.6,3370.8 958.5,3369.0 959.4,3367.3 960.4,3365.5 961.3,3363.8 962.2,3362.1 963.2,3360.4 964.2,3358.7 965.2,3357.0 966.2,3355.3 967.2,3353.6 968.2,3351.9 969.2,3350.2 970.3,3348.6 971.3,3346.9 972.4,3345.3 973.5,3343.6 974.6,3342.0 975.7,3340.4 976.8,3338.7 977.9,3337.1 979.1,3335.5 980.2,3333.9 981.4,3332.3 982.6,3330.7 983.7,3329.2 984.9,3327.6 986.1,3326.0 987.3,3324.5 988.6,3322.9 989.8,3321.4 991.0,3319.8 992.3,3318.3 993.5,3316.8 994.8,3315.3 996.1,3313.7 997.4,3312.2 998.7,3310.7 1000.0,3309.3 1001.3,3307.8 1002.6,3306.3 1004.0,3304.8 1005.3,3303.4 1006.7,3301.9 1008.0,3300.5 1009.4,3299.0 1010.8,3297.6 1012.2,3296.2 1013.6,3294.7 1015.0,3293.3 1016.4,3291.9 1017.8,3290.5 1019.3,3289.1 1020.7,3287.7 1022.2,3286.4 1023.6,3285.0 1025.1,3283.6 1026.5,3282.3 1028.0,3280.9 1029.5,3279.6 1031.0,3278.2 1032.5,3276.9 1034.0,3275.6 1035.5,3274.2 1037.0,3272.9 1038.6,3271.6 1040.1,3270.3 1041.6,3269.0 1043.2,3267.8 1044.7,3266.5 1046.3,3265.2 1047.9,3263.9 1049.5,3262.7 1051.0,3261.4 1052.6,3260.2 1054.2,3258.9 1055.8,3257.7 1057.4,3256.5 1059.0,3255.3 1060.6,3254.0 1062.3,3252.8 1063.9,3251.6 1065.5,3250.4 1067.2,3249.3 1068.8,3248.1 1070.4,3246.9 1072.1,3245.7 1073.8,3244.6 1075.4,3243.4 1077.1,3242.3 1078.8,3241.1 1080.4,3240.0 1082.1,3238.9 1083.8,3237.7 1085.5,3236.6 1087.2,3235.5 1088.9,3234.4 1090.6,3233.3 1092.3,3232.2 1094.0,3231.1 1095.7,3230.0 1097.4,3229.0 1099.1,3227.9 1100.9,3226.8 1102.6,3225.8 1104.3,3224.7 1106.1,3223.7 1107.8,3222.7 1109.5,3221.6 1111.3,3220.6 1113.0,3219.6 1114.8,3218.6 1116.5,3217.6 1118.3,3216.6 1120.0,3215.6 1121.8,3214.6 1123.5,3213.6 1125.3,3212.7 1127.1,3211.7 1128.8,3210.7 1130.6,3209.8 1132.4,3208.8 1134.1,3207.9 1135.9,3207.0 1137.7,3206.0 1139.5,3205.1 1141.2,3204.2 1143.0,3203.3 1144.8,3202.4 1146.6,3201.5 1148.4,3200.6 1150.1,3199.7 1151.9,3198.8 1153.7,3197.9 1155.5,3197.1 1157.3,3196.2 1159.1,3195.3 1160.8,3194.5 1162.6,3193.6 1164.4,3192.8 1166.2,3192.0 1168.0,3191.2 1169.8,3190.4 1171.6,3189.6 1173.4,3188.8 1175.2,3188.0 1177.0,3187.3 1178.8,3186.5 1180.7,3185.8 1182.5,3185.1 1184.3,3184.4 1186.1,3183.7 1188.0,3183.0 1189.8,3182.4 1191.7,3181.7 1193.6,3181.1 1195.4,3180.5 1197.3,3180.0 1199.2,3179.4 1201.1,3178.9 1203.0,3178.4 1204.9,3177.9 1206.8,3177.4 1208.8,3177.0 1210.7,3176.6 1212.7,3176.2 1214.6,3175.8 1216.6,3175.5 1218.6,3175.2 1220.6,3174.9 1222.6,3174.6 1224.6,3174.4 1226.6,3174.1 1228.7,3173.9 1230.7,3173.7 1232.7,3173.5 1234.8,3173.3 1236.8,3173.1 1238.8,3172.9 1240.9,3172.8 1242.9,3172.6 1245.0,3172.4 1247.0,3172.3 1249.0,3172.1 1251.0,3171.9 1253.1,3171.7 1255.1,3171.5 1257.1,3171.3 1259.1,3171.1 1261.1,3170.9 1263.1,3170.7 1265.1,3170.4 1267.1,3170.2 1269.0,3169.9 1271.0,3169.6 1273.0,3169.3 1274.9,3169.1 1276.9,3168.7 1278.8,3168.4 1280.7,3168.1 1282.7,3167.8 1284.6,3167.5 1286.6,3167.1 1288.5,3166.8 1290.4,3166.4 1292.4,3166.1 1294.3,3165.8 1296.3,3165.4 1298.2,3165.1 1300.2,3164.7 1302.1,3164.4 1304.1,3164.0 1306.0,3163.7 1308.0,3163.3 1310.0,3163.0 1311.9,3162.7 1313.9,3162.3 1315.9,3162.0 1317.9,3161.7 1319.9,3161.4 1321.9,3161.1 1323.9,3160.8 1325.9,3160.6 1327.9,3160.3 1329.9,3160.1 1331.9,3159.8 1333.9,3159.6 1335.9,3159.4 1337.9,3159.2 1339.9,3159.1 1341.9,3158.9 1343.9,3158.8 1345.9,3158.7 1347.9,3158.6 1349.9,3158.5 1351.9,3158.5 1353.9,3158.5 1355.8,3158.5 1357.8,3158.5 1359.8,3158.6" fill="none" stroke="#00C4CC" stroke-width="5" stroke-linejoin="round" stroke-linecap="butt" />
<line x1="1808.0" y1="3051.1" x2="1991.3" y2="3051.1" stroke="#000" stroke-width="6.7"/>
<polygon points="1761,3050.8 1810.9,3037.7 1810.9,3064.6" fill="#000"/>
<line x1="451.0" y1="2224.6" x2="2267.0" y2="2224.6" stroke="#000" stroke-width="6.5"/>
<line x1="477.8" y1="2198.0" x2="477.8" y2="3675.0" stroke="#000" stroke-width="7"/>
<line x1="2241.0" y1="2198.0" x2="2241.0" y2="3675.0" stroke="#000" stroke-width="6"/>
<line x1="451.0" y1="3647.5" x2="2267.0" y2="3647.5" stroke="#000" stroke-width="4.5"/>
<line x1="477.8" y1="3647.5" x2="477.8" y2="3675.0" stroke="#000" stroke-width="5"/>
<line x1="477.8" y1="2224.6" x2="477.8" y2="2198.0" stroke="#000" stroke-width="5"/>
<text transform="translate(477.8,3741.0) scale(1,1.06)" font-size="60" text-anchor="middle" >-0.5</text>
<line x1="830.4" y1="3647.5" x2="830.4" y2="3675.0" stroke="#000" stroke-width="5"/>
<line x1="830.4" y1="2224.6" x2="830.4" y2="2198.0" stroke="#000" stroke-width="5"/>
<text transform="translate(830.4,3741.0) scale(1,1.06)" font-size="60" text-anchor="middle" >-0.4</text>
<line x1="1183.1" y1="3647.5" x2="1183.1" y2="3675.0" stroke="#000" stroke-width="5"/>
<line x1="1183.1" y1="2224.6" x2="1183.1" y2="2198.0" stroke="#000" stroke-width="5"/>
<text transform="translate(1183.1,3741.0) scale(1,1.06)" font-size="60" text-anchor="middle" >-0.3</text>
<line x1="1535.7" y1="3647.5" x2="1535.7" y2="3675.0" stroke="#000" stroke-width="5"/>
<line x1="1535.7" y1="2224.6" x2="1535.7" y2="2198.0" stroke="#000" stroke-width="5"/>
<text transform="translate(1535.7,3741.0) scale(1,1.06)" font-size="60" text-anchor="middle" >-0.2</text>
<line x1="1888.4" y1="3647.5" x2="1888.4" y2="3675.0" stroke="#000" stroke-width="5"/>
<line x1="1888.4" y1="2224.6" x2="1888.4" y2="2198.0" stroke="#000" stroke-width="5"/>
<text transform="translate(1888.4,3741.0) scale(1,1.06)" font-size="60" text-anchor="middle" >-0.1</text>
<line x1="2241.0" y1="3647.5" x2="2241.0" y2="3675.0" stroke="#000" stroke-width="5"/>
<line x1="2241.0" y1="2224.6" x2="2241.0" y2="2198.0" stroke="#000" stroke-width="5"/>
<text transform="translate(2241.0,3741.0) scale(1,1.06)" font-size="60" text-anchor="middle" >0.0</text>
<line x1="654.1" y1="3647.5" x2="654.1" y2="3659.0" stroke="#000" stroke-width="6"/>
<line x1="654.1" y1="2224.6" x2="654.1" y2="2211.0" stroke="#000" stroke-width="6"/>
<line x1="1006.8" y1="3647.5" x2="1006.8" y2="3659.0" stroke="#000" stroke-width="6"/>
<line x1="1006.8" y1="2224.6" x2="1006.8" y2="2211.0" stroke="#000" stroke-width="6"/>
<line x1="1359.4" y1="3647.5" x2="1359.4" y2="3659.0" stroke="#000" stroke-width="6"/>
<line x1="1359.4" y1="2224.6" x2="1359.4" y2="2211.0" stroke="#000" stroke-width="6"/>
<line x1="1712.0" y1="3647.5" x2="1712.0" y2="3659.0" stroke="#000" stroke-width="6"/>
<line x1="1712.0" y1="2224.6" x2="1712.0" y2="2211.0" stroke="#000" stroke-width="6"/>
<line x1="2064.7" y1="3647.5" x2="2064.7" y2="3659.0" stroke="#000" stroke-width="6"/>
<line x1="2064.7" y1="2224.6" x2="2064.7" y2="2211.0" stroke="#000" stroke-width="6"/>
<line x1="451.0" y1="3647.5" x2="477.8" y2="3647.5" stroke="#000" stroke-width="5"/>
<line x1="2241.0" y1="3647.5" x2="2267.0" y2="3647.5" stroke="#000" stroke-width="5"/>
<text transform="translate(430.5,3663.5) scale(1,1.06)" font-size="60" text-anchor="end" >-8</text>
<line x1="451.0" y1="3469.6" x2="477.8" y2="3469.6" stroke="#000" stroke-width="5"/>
<line x1="2241.0" y1="3469.6" x2="2267.0" y2="3469.6" stroke="#000" stroke-width="5"/>
<text transform="translate(430.5,3485.6) scale(1,1.06)" font-size="60" text-anchor="end" >-6</text>
<line x1="451.0" y1="3291.8" x2="477.8" y2="3291.8" stroke="#000" stroke-width="5"/>
<line x1="2241.0" y1="3291.8" x2="2267.0" y2="3291.8" stroke="#000" stroke-width="5"/>
<text transform="translate(430.5,3307.8) scale(1,1.06)" font-size="60" text-anchor="end" >-4</text>
<line x1="451.0" y1="3113.9" x2="477.8" y2="3113.9" stroke="#000" stroke-width="5"/>
<line x1="2241.0" y1="3113.9" x2="2267.0" y2="3113.9" stroke="#000" stroke-width="5"/>
<text transform="translate(430.5,3129.9) scale(1,1.06)" font-size="60" text-anchor="end" >-2</text>
<line x1="451.0" y1="2936.1" x2="477.8" y2="2936.1" stroke="#000" stroke-width="5"/>
<line x1="2241.0" y1="2936.1" x2="2267.0" y2="2936.1" stroke="#000" stroke-width="5"/>
<text transform="translate(430.5,2952.1) scale(1,1.06)" font-size="60" text-anchor="end" >0</text>
<line x1="451.0" y1="2758.2" x2="477.8" y2="2758.2" stroke="#000" stroke-width="5"/>
<line x1="2241.0" y1="2758.2" x2="2267.0" y2="2758.2" stroke="#000" stroke-width="5"/>
<text transform="translate(430.5,2774.2) scale(1,1.06)" font-size="60" text-anchor="end" >2</text>
<line x1="451.0" y1="2580.3" x2="477.8" y2="2580.3" stroke="#000" stroke-width="5"/>
<line x1="2241.0" y1="2580.3" x2="2267.0" y2="2580.3" stroke="#000" stroke-width="5"/>
<text transform="translate(430.5,2596.3) scale(1,1.06)" font-size="60" text-anchor="end" >4</text>
<line x1="451.0" y1="2402.5" x2="477.8" y2="2402.5" stroke="#000" stroke-width="5"/>
<line x1="2241.0" y1="2402.5" x2="2267.0" y2="2402.5" stroke="#000" stroke-width="5"/>
<text transform="translate(430.5,2418.5) scale(1,1.06)" font-size="60" text-anchor="end" >6</text>
<line x1="451.0" y1="2224.6" x2="477.8" y2="2224.6" stroke="#000" stroke-width="5"/>
<line x1="2241.0" y1="2224.6" x2="2267.0" y2="2224.6" stroke="#000" stroke-width="5"/>
<text transform="translate(430.5,2240.6) scale(1,1.06)" font-size="60" text-anchor="end" >8</text>
<line x1="464.0" y1="3558.6" x2="477.8" y2="3558.6" stroke="#000" stroke-width="5"/>
<line x1="2241.0" y1="3558.6" x2="2255.0" y2="3558.6" stroke="#000" stroke-width="5"/>
<line x1="464.0" y1="3380.7" x2="477.8" y2="3380.7" stroke="#000" stroke-width="5"/>
<line x1="2241.0" y1="3380.7" x2="2255.0" y2="3380.7" stroke="#000" stroke-width="5"/>
<line x1="464.0" y1="3202.8" x2="477.8" y2="3202.8" stroke="#000" stroke-width="5"/>
<line x1="2241.0" y1="3202.8" x2="2255.0" y2="3202.8" stroke="#000" stroke-width="5"/>
<line x1="464.0" y1="3025.0" x2="477.8" y2="3025.0" stroke="#000" stroke-width="5"/>
<line x1="2241.0" y1="3025.0" x2="2255.0" y2="3025.0" stroke="#000" stroke-width="5"/>
<line x1="464.0" y1="2847.1" x2="477.8" y2="2847.1" stroke="#000" stroke-width="5"/>
<line x1="2241.0" y1="2847.1" x2="2255.0" y2="2847.1" stroke="#000" stroke-width="5"/>
<line x1="464.0" y1="2669.3" x2="477.8" y2="2669.3" stroke="#000" stroke-width="5"/>
<line x1="2241.0" y1="2669.3" x2="2255.0" y2="2669.3" stroke="#000" stroke-width="5"/>
<line x1="464.0" y1="2491.4" x2="477.8" y2="2491.4" stroke="#000" stroke-width="5"/>
<line x1="2241.0" y1="2491.4" x2="2255.0" y2="2491.4" stroke="#000" stroke-width="5"/>
<line x1="464.0" y1="2313.5" x2="477.8" y2="2313.5" stroke="#000" stroke-width="5"/>
<line x1="2241.0" y1="2313.5" x2="2255.0" y2="2313.5" stroke="#000" stroke-width="5"/>
<text transform="translate(927.0,3858.9) scale(1,1.06)" font-size="74" text-anchor="start">Potential (V vs. Ag/Ag<tspan font-size="49" dx="1" dy="19">2</tspan><tspan dx="0" dy="-19">S)</tspan></text>
<text transform="translate(275,3351.8) rotate(-90) scale(1,1.06)" font-size="73.1">Current density (µA/cm<tspan font-size="49" x="806.7" y="-30">2</tspan><tspan font-size="49" x="807" y="19.7">True</tspan><tspan x="915" y="0">)</tspan></text>
<text transform="translate(1515.0,3137.5) scale(1,1.06)" font-size="60.3" text-anchor="start">0.2 M NaOH + 1 mM Na<tspan font-size="40" dx="1.5" dy="16">2</tspan><tspan dx="1" dy="-16">S</tspan></text>
<text transform="translate(1515.0,3240.5) scale(1,1.06)" font-size="60" text-anchor="start" >50 mV s</text>
<text transform="translate(1767.6,3214.0) scale(1,1.06)" font-size="40" text-anchor="start" >1</text>
<line x1="1515.7" y1="3294.4" x2="1656.9" y2="3294.4" stroke="#555555" stroke-width="6.5"/>
<text transform="translate(1675.0,3316.0) scale(1,1.06)" font-size="60" text-anchor="start" >NPG</text>
<text transform="translate(1515.0,3393.3) scale(1,1.06)" font-size="60" text-anchor="start" >Ag surface coverage:</text>
<line x1="1515.7" y1="3447.8" x2="1656.9" y2="3447.8" stroke="#FA3C3C" stroke-width="6.5"/>
<text transform="translate(1675.0,3468.8) scale(1,1.06)" font-size="60" text-anchor="start" >1%</text>
<line x1="1515.7" y1="3524.5" x2="1656.9" y2="3524.5" stroke="#0066DD" stroke-width="6.5"/>
<text transform="translate(1675.0,3545.5) scale(1,1.06)" font-size="60" text-anchor="start" >2%</text>
<line x1="1515.7" y1="3602.3" x2="1656.9" y2="3602.3" stroke="#00A566" stroke-width="6.5"/>
<text transform="translate(1675.0,3623.3) scale(1,1.06)" font-size="60" text-anchor="start" >3%</text>
<line x1="1841.6" y1="3447.8" x2="1982.8" y2="3447.8" stroke="#C864DC" stroke-width="6.5"/>
<text transform="translate(2000.0,3468.8) scale(1,1.06)" font-size="60" text-anchor="start" >5%</text>
<line x1="1841.6" y1="3524.5" x2="1982.8" y2="3524.5" stroke="#D6A000" stroke-width="6.5"/>
<text transform="translate(2000.0,3545.5) scale(1,1.06)" font-size="60" text-anchor="start" >10%</text>
<line x1="1841.6" y1="3602.3" x2="1982.8" y2="3602.3" stroke="#00C4CC" stroke-width="6.5"/>
<text transform="translate(2000.0,3623.3) scale(1,1.06)" font-size="60" text-anchor="start" >20%</text>
</svg></body></html>
